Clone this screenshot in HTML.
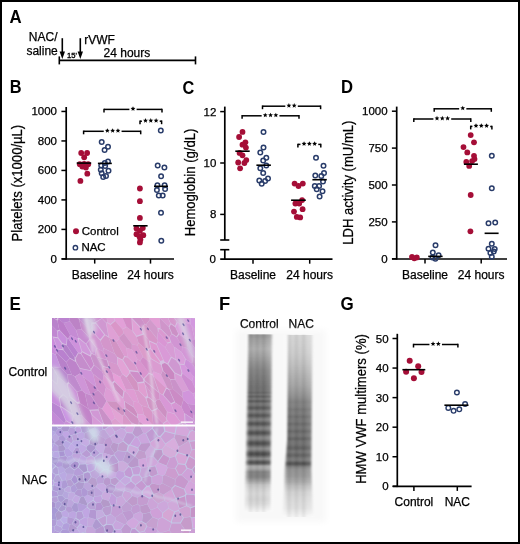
<!DOCTYPE html>
<html><head><meta charset="utf-8"><style>
html,body{margin:0;padding:0;background:#fff;}
svg{display:block;will-change:transform;}
text{font-family:"Liberation Sans", sans-serif;fill:#000;stroke:#000;stroke-width:0.25px;}
</style></head><body>
<svg width="520" height="544" viewBox="0 0 520 544">
<rect x="0" y="0" width="520" height="544" fill="#fff"/>
<defs>
<filter id="soft" x="-5%" y="-5%" width="110%" height="110%"><feGaussianBlur stdDeviation="0.7"/></filter>
<filter id="soft2" x="-5%" y="-5%" width="110%" height="110%"><feGaussianBlur stdDeviation="0.75"/></filter>
<filter id="blur1" x="-20%" y="-20%" width="140%" height="140%"><feGaussianBlur stdDeviation="0.9"/></filter>
<filter id="blur2" x="-20%" y="-20%" width="140%" height="140%"><feGaussianBlur stdDeviation="2"/></filter>
<filter id="blur3" x="-20%" y="-20%" width="140%" height="140%"><feGaussianBlur stdDeviation="3"/></filter>
<filter id="gelblur" x="-20%" y="-5%" width="140%" height="110%"><feGaussianBlur stdDeviation="1.0 0.6"/></filter>
</defs>
<text transform="translate(9.6,22.6) scale(0.99,1.065)" font-size="17" font-weight="bold" style="stroke-width:0">A</text>
<text x="28.8" y="40.9" font-size="12" text-anchor="start" font-weight="normal" >NAC/</text>
<text x="26.4" y="54.8" font-size="12" text-anchor="start" font-weight="normal" >saline</text>
<text x="84.2" y="44.3" font-size="12" text-anchor="start" font-weight="normal" >rVWF</text>
<text x="103.6" y="57.3" font-size="12" text-anchor="start" font-weight="normal" >24 hours</text>
<text x="67.0" y="58.1" font-size="7.6" text-anchor="start" font-weight="normal" style="stroke-width:0.35px">15'</text>
<line x1="62.3" y1="38.2" x2="62.3" y2="53" stroke="#000" stroke-width="1.6"/>
<polygon points="59.599999999999994,51.6 65.0,51.6 62.3,58.9" fill="#000"/>
<line x1="80.3" y1="38.2" x2="80.3" y2="53" stroke="#000" stroke-width="1.6"/>
<polygon points="77.6,51.6 83.0,51.6 80.3,58.9" fill="#000"/>
<line x1="59.3" y1="60.4" x2="195.5" y2="60.4" stroke="#000" stroke-width="1.8"/>
<line x1="59.3" y1="56.4" x2="59.3" y2="64.4" stroke="#000" stroke-width="1.6"/>
<line x1="195.5" y1="56.4" x2="195.5" y2="64.4" stroke="#000" stroke-width="1.6"/>
<text transform="translate(9.7,92.9) scale(0.96,1.065)" font-size="17" font-weight="bold" style="stroke-width:0">B</text>
<line x1="66.2" y1="107" x2="66.2" y2="259.7" stroke="#000" stroke-width="1.7"/>
<line x1="61.400000000000006" y1="111.44999999999999" x2="66.2" y2="111.44999999999999" stroke="#000" stroke-width="1.5"/>
<text x="57.0" y="115.44999999999999" font-size="11.5" text-anchor="end" font-weight="normal" >1000</text>
<line x1="61.400000000000006" y1="140.94" x2="66.2" y2="140.94" stroke="#000" stroke-width="1.5"/>
<text x="57.0" y="144.94" font-size="11.5" text-anchor="end" font-weight="normal" >800</text>
<line x1="61.400000000000006" y1="170.42999999999998" x2="66.2" y2="170.42999999999998" stroke="#000" stroke-width="1.5"/>
<text x="57.0" y="174.42999999999998" font-size="11.5" text-anchor="end" font-weight="normal" >600</text>
<line x1="61.400000000000006" y1="199.92" x2="66.2" y2="199.92" stroke="#000" stroke-width="1.5"/>
<text x="57.0" y="203.92" font-size="11.5" text-anchor="end" font-weight="normal" >400</text>
<line x1="61.400000000000006" y1="229.40999999999997" x2="66.2" y2="229.40999999999997" stroke="#000" stroke-width="1.5"/>
<text x="57.0" y="233.40999999999997" font-size="11.5" text-anchor="end" font-weight="normal" >200</text>
<line x1="61.400000000000006" y1="258.9" x2="66.2" y2="258.9" stroke="#000" stroke-width="1.5"/>
<text x="57.0" y="262.9" font-size="11.5" text-anchor="end" font-weight="normal" >0</text>
<line x1="61.7" y1="259.0" x2="174" y2="259.0" stroke="#000" stroke-width="1.7"/>
<line x1="94.7" y1="259.0" x2="94.7" y2="263.6" stroke="#000" stroke-width="1.5"/>
<text x="94.7" y="279.3" font-size="12" text-anchor="middle" font-weight="normal" >Baseline</text>
<line x1="150.5" y1="259.0" x2="150.5" y2="263.6" stroke="#000" stroke-width="1.5"/>
<text x="150.5" y="279.3" font-size="12" text-anchor="middle" font-weight="normal" >24 hours</text>
<text transform="translate(21.6,183.1) rotate(-90) scale(0.935,1)" font-size="14" text-anchor="middle">Platelets (x1000/µL)</text>
<circle cx="81.2" cy="153" r="2.9" fill="#a50e37"/>
<circle cx="87.1" cy="153" r="2.9" fill="#a50e37"/>
<circle cx="84.2" cy="157.3" r="2.9" fill="#a50e37"/>
<circle cx="79.8" cy="164.2" r="2.9" fill="#a50e37"/>
<circle cx="88.2" cy="164.2" r="2.9" fill="#a50e37"/>
<circle cx="82.3" cy="166.6" r="2.9" fill="#a50e37"/>
<circle cx="85.9" cy="167.6" r="2.9" fill="#a50e37"/>
<circle cx="84.2" cy="163.8" r="2.9" fill="#a50e37"/>
<circle cx="87.3" cy="173.7" r="2.9" fill="#a50e37"/>
<circle cx="80.4" cy="180.9" r="2.9" fill="#a50e37"/>
<line x1="76.7" y1="163.1" x2="91.2" y2="163.1" stroke="#000" stroke-width="1.6"/>
<circle cx="101.7" cy="141.9" r="2.25" fill="none" stroke="#293c6a" stroke-width="1.5"/>
<circle cx="108" cy="146.7" r="2.25" fill="none" stroke="#293c6a" stroke-width="1.5"/>
<circle cx="104.6" cy="150.1" r="2.25" fill="none" stroke="#293c6a" stroke-width="1.5"/>
<circle cx="108" cy="161.6" r="2.25" fill="none" stroke="#293c6a" stroke-width="1.5"/>
<circle cx="101.25" cy="165.5" r="2.25" fill="none" stroke="#293c6a" stroke-width="1.5"/>
<circle cx="105.1" cy="166" r="2.25" fill="none" stroke="#293c6a" stroke-width="1.5"/>
<circle cx="108.5" cy="170.8" r="2.25" fill="none" stroke="#293c6a" stroke-width="1.5"/>
<circle cx="100.8" cy="169.8" r="2.25" fill="none" stroke="#293c6a" stroke-width="1.5"/>
<circle cx="101.7" cy="173.2" r="2.25" fill="none" stroke="#293c6a" stroke-width="1.5"/>
<circle cx="106" cy="176" r="2.25" fill="none" stroke="#293c6a" stroke-width="1.5"/>
<circle cx="103.2" cy="177" r="2.25" fill="none" stroke="#293c6a" stroke-width="1.5"/>
<circle cx="104.8" cy="163" r="2.25" fill="none" stroke="#293c6a" stroke-width="1.5"/>
<line x1="97.9" y1="163.4" x2="111.8" y2="163.4" stroke="#000" stroke-width="1.6"/>
<circle cx="139.9" cy="188.5" r="2.9" fill="#a50e37"/>
<circle cx="139.9" cy="201.2" r="2.9" fill="#a50e37"/>
<circle cx="139.9" cy="217.9" r="2.9" fill="#a50e37"/>
<circle cx="136.5" cy="228.5" r="2.9" fill="#a50e37"/>
<circle cx="142.8" cy="228" r="2.9" fill="#a50e37"/>
<circle cx="139.9" cy="230.9" r="2.9" fill="#a50e37"/>
<circle cx="136.5" cy="234.2" r="2.9" fill="#a50e37"/>
<circle cx="143.3" cy="235.2" r="2.9" fill="#a50e37"/>
<circle cx="139.4" cy="236.6" r="2.9" fill="#a50e37"/>
<circle cx="140.4" cy="239.5" r="2.9" fill="#a50e37"/>
<circle cx="139.9" cy="242.4" r="2.9" fill="#a50e37"/>
<line x1="133.2" y1="225.8" x2="147.6" y2="225.8" stroke="#000" stroke-width="1.6"/>
<circle cx="160.8" cy="130.6" r="2.25" fill="none" stroke="#293c6a" stroke-width="1.5"/>
<circle cx="157.7" cy="165.5" r="2.25" fill="none" stroke="#293c6a" stroke-width="1.5"/>
<circle cx="164.4" cy="167.4" r="2.25" fill="none" stroke="#293c6a" stroke-width="1.5"/>
<circle cx="161.1" cy="176.3" r="2.25" fill="none" stroke="#293c6a" stroke-width="1.5"/>
<circle cx="157.4" cy="185.3" r="2.25" fill="none" stroke="#293c6a" stroke-width="1.5"/>
<circle cx="164.6" cy="185.3" r="2.25" fill="none" stroke="#293c6a" stroke-width="1.5"/>
<circle cx="156.9" cy="190" r="2.25" fill="none" stroke="#293c6a" stroke-width="1.5"/>
<circle cx="165.1" cy="189.1" r="2.25" fill="none" stroke="#293c6a" stroke-width="1.5"/>
<circle cx="158.8" cy="195.4" r="2.25" fill="none" stroke="#293c6a" stroke-width="1.5"/>
<circle cx="162.7" cy="195.4" r="2.25" fill="none" stroke="#293c6a" stroke-width="1.5"/>
<circle cx="161" cy="212.7" r="2.25" fill="none" stroke="#293c6a" stroke-width="1.5"/>
<circle cx="161.3" cy="240.8" r="2.25" fill="none" stroke="#293c6a" stroke-width="1.5"/>
<line x1="154" y1="186.3" x2="168" y2="186.3" stroke="#000" stroke-width="1.6"/>
<line x1="104" y1="109.4" x2="129.4" y2="109.4" stroke="#000" stroke-width="1.5"/>
<line x1="136.6" y1="109.4" x2="162" y2="109.4" stroke="#000" stroke-width="1.5"/>
<polygon points="133.00,106.25 133.68,107.87 135.43,108.01 134.09,109.16 134.50,110.86 133.00,109.95 131.50,110.86 131.91,109.16 130.57,108.01 132.32,107.87" fill="#000"/>
<line x1="104" y1="108.65" x2="104" y2="112.4" stroke="#000" stroke-width="1.5"/>
<line x1="162" y1="108.65" x2="162" y2="112.4" stroke="#000" stroke-width="1.5"/>
<line x1="140" y1="121.2" x2="141.9" y2="121.2" stroke="#000" stroke-width="1.5"/>
<line x1="159.7" y1="121.2" x2="161.6" y2="121.2" stroke="#000" stroke-width="1.5"/>
<polygon points="145.50,118.05 146.18,119.67 147.93,119.81 146.59,120.96 147.00,122.66 145.50,121.75 144.00,122.66 144.41,120.96 143.07,119.81 144.82,119.67" fill="#000"/>
<polygon points="150.80,118.05 151.48,119.67 153.23,119.81 151.89,120.96 152.30,122.66 150.80,121.75 149.30,122.66 149.71,120.96 148.37,119.81 150.12,119.67" fill="#000"/>
<polygon points="156.10,118.05 156.78,119.67 158.53,119.81 157.19,120.96 157.60,122.66 156.10,121.75 154.60,122.66 155.01,120.96 153.67,119.81 155.42,119.67" fill="#000"/>
<line x1="140" y1="120.45" x2="140" y2="124.2" stroke="#000" stroke-width="1.5"/>
<line x1="161.6" y1="120.45" x2="161.6" y2="124.2" stroke="#000" stroke-width="1.5"/>
<line x1="83.6" y1="131.3" x2="103.75000000000001" y2="131.3" stroke="#000" stroke-width="1.5"/>
<line x1="121.55" y1="131.3" x2="140.7" y2="131.3" stroke="#000" stroke-width="1.5"/>
<polygon points="107.35,128.15 108.03,129.77 109.78,129.91 108.44,131.06 108.85,132.76 107.35,131.85 105.85,132.76 106.26,131.06 104.92,129.91 106.67,129.77" fill="#000"/>
<polygon points="112.65,128.15 113.33,129.77 115.08,129.91 113.74,131.06 114.15,132.76 112.65,131.85 111.15,132.76 111.56,131.06 110.22,129.91 111.97,129.77" fill="#000"/>
<polygon points="117.95,128.15 118.63,129.77 120.38,129.91 119.04,131.06 119.45,132.76 117.95,131.85 116.45,132.76 116.86,131.06 115.52,129.91 117.27,129.77" fill="#000"/>
<line x1="83.6" y1="130.55" x2="83.6" y2="134.3" stroke="#000" stroke-width="1.5"/>
<line x1="140.7" y1="130.55" x2="140.7" y2="134.3" stroke="#000" stroke-width="1.5"/>
<circle cx="76" cy="231.2" r="3.0" fill="#a50e37"/>
<text x="81.7" y="235.1" font-size="11.5" text-anchor="start" font-weight="normal" >Control</text>
<circle cx="75.4" cy="247.7" r="2.2" fill="none" stroke="#293c6a" stroke-width="1.4"/>
<text x="81.4" y="251.2" font-size="11.5" text-anchor="start" font-weight="normal" >NAC</text>
<text transform="translate(182.5,93.5) scale(0.96,1.065)" font-size="17" font-weight="bold" style="stroke-width:0">C</text>
<line x1="224.8" y1="106.6" x2="224.8" y2="240" stroke="#000" stroke-width="1.7"/>
<line x1="220.2" y1="240" x2="229.3" y2="240" stroke="#000" stroke-width="1.6"/>
<line x1="224.8" y1="249.7" x2="224.8" y2="259.1" stroke="#000" stroke-width="1.7"/>
<line x1="220.2" y1="249.7" x2="229.3" y2="249.7" stroke="#000" stroke-width="1.6"/>
<line x1="220.2" y1="111.6" x2="224.8" y2="111.6" stroke="#000" stroke-width="1.5"/>
<text x="216.4" y="115.6" font-size="11.5" text-anchor="end" font-weight="normal" >12</text>
<line x1="220.2" y1="163.0" x2="224.8" y2="163.0" stroke="#000" stroke-width="1.5"/>
<text x="216.4" y="167.0" font-size="11.5" text-anchor="end" font-weight="normal" >10</text>
<line x1="220.2" y1="214.39999999999998" x2="224.8" y2="214.39999999999998" stroke="#000" stroke-width="1.5"/>
<text x="216.4" y="218.39999999999998" font-size="11.5" text-anchor="end" font-weight="normal" >8</text>
<text x="216.0" y="262.7" font-size="11.5" text-anchor="end" font-weight="normal" >0</text>
<line x1="220.2" y1="259.1" x2="332.5" y2="259.1" stroke="#000" stroke-width="1.7"/>
<line x1="253" y1="259.1" x2="253" y2="263.70000000000005" stroke="#000" stroke-width="1.5"/>
<text x="253" y="279.3" font-size="12" text-anchor="middle" font-weight="normal" >Baseline</text>
<line x1="309.7" y1="259.1" x2="309.7" y2="263.70000000000005" stroke="#000" stroke-width="1.5"/>
<text x="309.7" y="279.3" font-size="12" text-anchor="middle" font-weight="normal" >24 hours</text>
<text transform="translate(194.6,182.5) rotate(-90) scale(0.935,1)" font-size="14" text-anchor="middle">Hemoglobin (g/dL)</text>
<circle cx="242.5" cy="131.9" r="2.9" fill="#a50e37"/>
<circle cx="239.1" cy="137" r="2.9" fill="#a50e37"/>
<circle cx="245.4" cy="142.3" r="2.9" fill="#a50e37"/>
<circle cx="242.5" cy="144.7" r="2.9" fill="#a50e37"/>
<circle cx="245.9" cy="147.6" r="2.9" fill="#a50e37"/>
<circle cx="239.6" cy="152.9" r="2.9" fill="#a50e37"/>
<circle cx="242.5" cy="155.3" r="2.9" fill="#a50e37"/>
<circle cx="246.3" cy="160.1" r="2.9" fill="#a50e37"/>
<circle cx="238.2" cy="162.5" r="2.9" fill="#a50e37"/>
<circle cx="244.4" cy="163" r="2.9" fill="#a50e37"/>
<circle cx="240.1" cy="168.3" r="2.9" fill="#a50e37"/>
<line x1="235.3" y1="151.2" x2="249.7" y2="151.2" stroke="#000" stroke-width="1.6"/>
<circle cx="263.5" cy="131.9" r="2.25" fill="none" stroke="#293c6a" stroke-width="1.5"/>
<circle cx="263.5" cy="147.6" r="2.25" fill="none" stroke="#293c6a" stroke-width="1.5"/>
<circle cx="260.3" cy="152.4" r="2.25" fill="none" stroke="#293c6a" stroke-width="1.5"/>
<circle cx="266.3" cy="157.7" r="2.25" fill="none" stroke="#293c6a" stroke-width="1.5"/>
<circle cx="263.2" cy="160.6" r="2.25" fill="none" stroke="#293c6a" stroke-width="1.5"/>
<circle cx="266.3" cy="165.4" r="2.25" fill="none" stroke="#293c6a" stroke-width="1.5"/>
<circle cx="260.3" cy="168.3" r="2.25" fill="none" stroke="#293c6a" stroke-width="1.5"/>
<circle cx="263.2" cy="173.1" r="2.25" fill="none" stroke="#293c6a" stroke-width="1.5"/>
<circle cx="268" cy="178.6" r="2.25" fill="none" stroke="#293c6a" stroke-width="1.5"/>
<circle cx="259.3" cy="180.5" r="2.25" fill="none" stroke="#293c6a" stroke-width="1.5"/>
<circle cx="265.1" cy="181" r="2.25" fill="none" stroke="#293c6a" stroke-width="1.5"/>
<circle cx="261.7" cy="183.8" r="2.25" fill="none" stroke="#293c6a" stroke-width="1.5"/>
<line x1="256.4" y1="165.2" x2="270.9" y2="165.2" stroke="#000" stroke-width="1.6"/>
<circle cx="294.6" cy="183.6" r="2.9" fill="#a50e37"/>
<circle cx="298.5" cy="186" r="2.9" fill="#a50e37"/>
<circle cx="302.8" cy="183.6" r="2.9" fill="#a50e37"/>
<circle cx="302.1" cy="200.1" r="2.9" fill="#a50e37"/>
<circle cx="295.4" cy="203.5" r="2.9" fill="#a50e37"/>
<circle cx="299.2" cy="203.5" r="2.9" fill="#a50e37"/>
<circle cx="302.6" cy="209.2" r="2.9" fill="#a50e37"/>
<circle cx="294" cy="211.6" r="2.9" fill="#a50e37"/>
<circle cx="296.8" cy="216.9" r="2.9" fill="#a50e37"/>
<circle cx="300.2" cy="217.4" r="2.9" fill="#a50e37"/>
<line x1="291.1" y1="200.2" x2="305.8" y2="200.2" stroke="#000" stroke-width="1.6"/>
<circle cx="316" cy="157.7" r="2.25" fill="none" stroke="#293c6a" stroke-width="1.5"/>
<circle cx="323.5" cy="165.8" r="2.25" fill="none" stroke="#293c6a" stroke-width="1.5"/>
<circle cx="324" cy="173" r="2.25" fill="none" stroke="#293c6a" stroke-width="1.5"/>
<circle cx="315.3" cy="175.4" r="2.25" fill="none" stroke="#293c6a" stroke-width="1.5"/>
<circle cx="321.3" cy="175.9" r="2.25" fill="none" stroke="#293c6a" stroke-width="1.5"/>
<circle cx="323" cy="181.6" r="2.25" fill="none" stroke="#293c6a" stroke-width="1.5"/>
<circle cx="314.8" cy="186" r="2.25" fill="none" stroke="#293c6a" stroke-width="1.5"/>
<circle cx="319.1" cy="186" r="2.25" fill="none" stroke="#293c6a" stroke-width="1.5"/>
<circle cx="316.7" cy="189.3" r="2.25" fill="none" stroke="#293c6a" stroke-width="1.5"/>
<circle cx="322.5" cy="191.3" r="2.25" fill="none" stroke="#293c6a" stroke-width="1.5"/>
<circle cx="319.6" cy="196.5" r="2.25" fill="none" stroke="#293c6a" stroke-width="1.5"/>
<line x1="312.4" y1="179.7" x2="326.8" y2="179.7" stroke="#000" stroke-width="1.6"/>
<line x1="262.5" y1="106.2" x2="285.3" y2="106.2" stroke="#000" stroke-width="1.5"/>
<line x1="297.80000000000007" y1="106.2" x2="320.6" y2="106.2" stroke="#000" stroke-width="1.5"/>
<polygon points="288.90,103.05 289.58,104.67 291.33,104.81 289.99,105.96 290.40,107.66 288.90,106.75 287.40,107.66 287.81,105.96 286.47,104.81 288.22,104.67" fill="#000"/>
<polygon points="294.20,103.05 294.88,104.67 296.63,104.81 295.29,105.96 295.70,107.66 294.20,106.75 292.70,107.66 293.11,105.96 291.77,104.81 293.52,104.67" fill="#000"/>
<line x1="262.5" y1="105.45" x2="262.5" y2="109.2" stroke="#000" stroke-width="1.5"/>
<line x1="320.6" y1="105.45" x2="320.6" y2="109.2" stroke="#000" stroke-width="1.5"/>
<line x1="242.1" y1="115.8" x2="261.65" y2="115.8" stroke="#000" stroke-width="1.5"/>
<line x1="279.45000000000005" y1="115.8" x2="299" y2="115.8" stroke="#000" stroke-width="1.5"/>
<polygon points="265.25,112.65 265.93,114.27 267.68,114.41 266.34,115.56 266.75,117.26 265.25,116.35 263.75,117.26 264.16,115.56 262.82,114.41 264.57,114.27" fill="#000"/>
<polygon points="270.55,112.65 271.23,114.27 272.98,114.41 271.64,115.56 272.05,117.26 270.55,116.35 269.05,117.26 269.46,115.56 268.12,114.41 269.87,114.27" fill="#000"/>
<polygon points="275.85,112.65 276.53,114.27 278.28,114.41 276.94,115.56 277.35,117.26 275.85,116.35 274.35,117.26 274.76,115.56 273.42,114.41 275.17,114.27" fill="#000"/>
<line x1="242.1" y1="115.05" x2="242.1" y2="118.8" stroke="#000" stroke-width="1.5"/>
<line x1="299" y1="115.05" x2="299" y2="118.8" stroke="#000" stroke-width="1.5"/>
<line x1="297.9" y1="144.4" x2="300.45" y2="144.4" stroke="#000" stroke-width="1.5"/>
<line x1="318.25000000000006" y1="144.4" x2="320.8" y2="144.4" stroke="#000" stroke-width="1.5"/>
<polygon points="304.05,141.25 304.73,142.87 306.48,143.01 305.14,144.16 305.55,145.86 304.05,144.95 302.55,145.86 302.96,144.16 301.62,143.01 303.37,142.87" fill="#000"/>
<polygon points="309.35,141.25 310.03,142.87 311.78,143.01 310.44,144.16 310.85,145.86 309.35,144.95 307.85,145.86 308.26,144.16 306.92,143.01 308.67,142.87" fill="#000"/>
<polygon points="314.65,141.25 315.33,142.87 317.08,143.01 315.74,144.16 316.15,145.86 314.65,144.95 313.15,145.86 313.56,144.16 312.22,143.01 313.97,142.87" fill="#000"/>
<line x1="297.9" y1="143.65" x2="297.9" y2="147.4" stroke="#000" stroke-width="1.5"/>
<line x1="320.8" y1="143.65" x2="320.8" y2="147.4" stroke="#000" stroke-width="1.5"/>
<text transform="translate(340.9,92.8) scale(0.98,1.065)" font-size="17" font-weight="bold" style="stroke-width:0">D</text>
<line x1="396.7" y1="106.6" x2="396.7" y2="259.6" stroke="#000" stroke-width="1.7"/>
<line x1="391.9" y1="111.19999999999999" x2="396.7" y2="111.19999999999999" stroke="#000" stroke-width="1.5"/>
<text x="387.6" y="115.19999999999999" font-size="11.5" text-anchor="end" font-weight="normal" >1000</text>
<line x1="391.9" y1="148.10000000000002" x2="396.7" y2="148.10000000000002" stroke="#000" stroke-width="1.5"/>
<text x="387.6" y="152.10000000000002" font-size="11.5" text-anchor="end" font-weight="normal" >750</text>
<line x1="391.9" y1="185.0" x2="396.7" y2="185.0" stroke="#000" stroke-width="1.5"/>
<text x="387.6" y="189.0" font-size="11.5" text-anchor="end" font-weight="normal" >500</text>
<line x1="391.9" y1="221.9" x2="396.7" y2="221.9" stroke="#000" stroke-width="1.5"/>
<text x="387.6" y="225.9" font-size="11.5" text-anchor="end" font-weight="normal" >250</text>
<line x1="391.9" y1="258.8" x2="396.7" y2="258.8" stroke="#000" stroke-width="1.5"/>
<text x="387.6" y="262.8" font-size="11.5" text-anchor="end" font-weight="normal" >0</text>
<line x1="392" y1="259.0" x2="507" y2="259.0" stroke="#000" stroke-width="1.7"/>
<line x1="425" y1="259.0" x2="425" y2="263.6" stroke="#000" stroke-width="1.5"/>
<text x="425" y="279.3" font-size="12" text-anchor="middle" font-weight="normal" >Baseline</text>
<line x1="481.2" y1="259.0" x2="481.2" y2="263.6" stroke="#000" stroke-width="1.5"/>
<text x="481.2" y="279.3" font-size="12" text-anchor="middle" font-weight="normal" >24 hours</text>
<text transform="translate(352.7,182.7) rotate(-90) scale(0.935,1)" font-size="14" text-anchor="middle">LDH activity (mU/mL)</text>
<circle cx="412" cy="257.0" r="2.9" fill="#a50e37"/>
<circle cx="416.8" cy="257.4" r="2.9" fill="#a50e37"/>
<circle cx="414.3" cy="258.3" r="2.9" fill="#a50e37"/>
<circle cx="435.5" cy="245.2" r="2.25" fill="none" stroke="#293c6a" stroke-width="1.5"/>
<circle cx="432.8" cy="252.4" r="2.25" fill="none" stroke="#293c6a" stroke-width="1.5"/>
<circle cx="438.6" cy="255.2" r="2.25" fill="none" stroke="#293c6a" stroke-width="1.5"/>
<circle cx="435.4" cy="258.8" r="2.25" fill="none" stroke="#293c6a" stroke-width="1.5"/>
<circle cx="432.5" cy="257.5" r="2.25" fill="none" stroke="#293c6a" stroke-width="1.5"/>
<line x1="428.2" y1="256.4" x2="442.6" y2="256.4" stroke="#000" stroke-width="1.6"/>
<circle cx="470.7" cy="135.1" r="2.9" fill="#a50e37"/>
<circle cx="474" cy="142.3" r="2.9" fill="#a50e37"/>
<circle cx="463.5" cy="147.1" r="2.9" fill="#a50e37"/>
<circle cx="467.3" cy="152.4" r="2.9" fill="#a50e37"/>
<circle cx="474" cy="155.8" r="2.9" fill="#a50e37"/>
<circle cx="474.5" cy="159.1" r="2.9" fill="#a50e37"/>
<circle cx="472.1" cy="161.1" r="2.9" fill="#a50e37"/>
<circle cx="466.3" cy="162" r="2.9" fill="#a50e37"/>
<circle cx="469.2" cy="165.9" r="2.9" fill="#a50e37"/>
<circle cx="470.7" cy="195" r="2.9" fill="#a50e37"/>
<circle cx="470.4" cy="231.3" r="2.9" fill="#a50e37"/>
<line x1="463.9" y1="164.2" x2="477.9" y2="164.2" stroke="#000" stroke-width="1.6"/>
<circle cx="491.8" cy="155.8" r="2.25" fill="none" stroke="#293c6a" stroke-width="1.5"/>
<circle cx="491.8" cy="188.3" r="2.25" fill="none" stroke="#293c6a" stroke-width="1.5"/>
<circle cx="488.5" cy="223.2" r="2.25" fill="none" stroke="#293c6a" stroke-width="1.5"/>
<circle cx="495.2" cy="222.5" r="2.25" fill="none" stroke="#293c6a" stroke-width="1.5"/>
<circle cx="491.8" cy="243.8" r="2.25" fill="none" stroke="#293c6a" stroke-width="1.5"/>
<circle cx="488.5" cy="248.7" r="2.25" fill="none" stroke="#293c6a" stroke-width="1.5"/>
<circle cx="494.7" cy="249.1" r="2.25" fill="none" stroke="#293c6a" stroke-width="1.5"/>
<circle cx="490.4" cy="253" r="2.25" fill="none" stroke="#293c6a" stroke-width="1.5"/>
<circle cx="493.75" cy="251.5" r="2.25" fill="none" stroke="#293c6a" stroke-width="1.5"/>
<circle cx="491.8" cy="256.8" r="2.25" fill="none" stroke="#293c6a" stroke-width="1.5"/>
<line x1="484.6" y1="233.3" x2="498.6" y2="233.3" stroke="#000" stroke-width="1.6"/>
<line x1="434.2" y1="108.8" x2="459.15" y2="108.8" stroke="#000" stroke-width="1.5"/>
<line x1="466.35" y1="108.8" x2="491.3" y2="108.8" stroke="#000" stroke-width="1.5"/>
<polygon points="462.75,105.65 463.43,107.27 465.18,107.41 463.84,108.56 464.25,110.26 462.75,109.35 461.25,110.26 461.66,108.56 460.32,107.41 462.07,107.27" fill="#000"/>
<line x1="434.2" y1="108.05" x2="434.2" y2="111.8" stroke="#000" stroke-width="1.5"/>
<line x1="491.3" y1="108.05" x2="491.3" y2="111.8" stroke="#000" stroke-width="1.5"/>
<line x1="413.8" y1="119.0" x2="433.4" y2="119.0" stroke="#000" stroke-width="1.5"/>
<line x1="451.20000000000005" y1="119.0" x2="470.8" y2="119.0" stroke="#000" stroke-width="1.5"/>
<polygon points="437.00,115.85 437.68,117.47 439.43,117.61 438.09,118.76 438.50,120.46 437.00,119.55 435.50,120.46 435.91,118.76 434.57,117.61 436.32,117.47" fill="#000"/>
<polygon points="442.30,115.85 442.98,117.47 444.73,117.61 443.39,118.76 443.80,120.46 442.30,119.55 440.80,120.46 441.21,118.76 439.87,117.61 441.62,117.47" fill="#000"/>
<polygon points="447.60,115.85 448.28,117.47 450.03,117.61 448.69,118.76 449.10,120.46 447.60,119.55 446.10,120.46 446.51,118.76 445.17,117.61 446.92,117.47" fill="#000"/>
<line x1="413.8" y1="118.25" x2="413.8" y2="122.0" stroke="#000" stroke-width="1.5"/>
<line x1="470.8" y1="118.25" x2="470.8" y2="122.0" stroke="#000" stroke-width="1.5"/>
<line x1="470.7" y1="126.4" x2="472.3999999999999" y2="126.4" stroke="#000" stroke-width="1.5"/>
<line x1="490.2" y1="126.4" x2="491.9" y2="126.4" stroke="#000" stroke-width="1.5"/>
<polygon points="476.00,123.25 476.68,124.87 478.43,125.01 477.09,126.16 477.50,127.86 476.00,126.95 474.50,127.86 474.91,126.16 473.57,125.01 475.32,124.87" fill="#000"/>
<polygon points="481.30,123.25 481.98,124.87 483.73,125.01 482.39,126.16 482.80,127.86 481.30,126.95 479.80,127.86 480.21,126.16 478.87,125.01 480.62,124.87" fill="#000"/>
<polygon points="486.60,123.25 487.28,124.87 489.03,125.01 487.69,126.16 488.10,127.86 486.60,126.95 485.10,127.86 485.51,126.16 484.17,125.01 485.92,124.87" fill="#000"/>
<line x1="470.7" y1="125.65" x2="470.7" y2="129.4" stroke="#000" stroke-width="1.5"/>
<line x1="491.9" y1="125.65" x2="491.9" y2="129.4" stroke="#000" stroke-width="1.5"/>
<text transform="translate(9.5,309.9) scale(1.0,1.065)" font-size="17" font-weight="bold" style="stroke-width:0">E</text>
<text x="8.6" y="375.6" font-size="12" text-anchor="start" font-weight="normal" >Control</text>
<text x="21.8" y="483.8" font-size="12" text-anchor="start" font-weight="normal" >NAC</text>
<clipPath id="cpT"><rect x="52" y="318" width="143" height="106.5"/></clipPath>
<g clip-path="url(#cpT)">
<g filter="url(#soft)">
<rect x="49" y="315" width="149" height="112.5" fill="#d6c0e2"/>
<path d="M83.3,426.5L81.5,415.3L81.6,415.3L91.8,426.5Z" fill="#cf93d2"/>
<path d="M197.0,369.2L195.9,368.1L197.0,367.2Z" fill="#d19bde"/>
<path d="M159.7,399.3L159.4,393.2L144.5,380.9L144.5,382.6L145.1,384.2L156.4,400.1Z" fill="#d292c7"/>
<path d="M158.8,332.3L167.0,342.6L170.2,341.8L168.7,337.5L160.9,329.5L158.4,329.3Z" fill="#da99d0"/>
<path d="M84.8,393.3L88.3,408.6L80.0,403.2L77.1,391.7L82.0,390.4Z" fill="#c182c6"/>
<path d="M96.7,357.1L95.4,355.4L96.7,348.1L102.9,351.4L106.9,359.8Z" fill="#d293ce"/>
<path d="M75.1,357.7L78.0,352.5L68.3,338.8L67.4,338.5L66.8,345.2Z" fill="#b981cf"/>
<path d="M102.7,366.6L101.9,371.3L94.3,365.1L90.9,356.6L91.7,353.8L95.4,355.5L96.7,357.1Z" fill="#c892ca"/>
<path d="M90.0,355.3L82.0,351.0L78.7,340.0L79.3,338.9L85.8,344.2L90.7,353.0Z" fill="#d199da"/>
<path d="M197.0,416.4L197.0,426.4L196.8,426.4L193.1,418.9L193.8,414.5Z" fill="#cd94d4"/>
<path d="M124.8,401.8L133.7,407.4L137.1,413.6L137.2,417.0L125.6,407.9Z" fill="#cd8dc0"/>
<path d="M160.9,374.4L153.3,371.4L152.6,374.5L153.7,376.5L165.9,387.9L167.2,387.7Z" fill="#e1a2d9"/>
<path d="M88.3,408.8L89.3,410.0L91.6,414.9L92.7,426.3L91.9,426.3L81.6,415.1L77.8,404.0L80.1,403.5Z" fill="#c284c9"/>
<path d="M106.7,316.1L107.5,322.2L110.4,324.1L114.7,320.4L112.8,316.1Z" fill="#dca2d6"/>
<path d="M197.0,416.2L193.7,414.4L187.9,403.9L197.0,405.0Z" fill="#c68bcf"/>
<path d="M108.4,426.4L104.0,423.9L98.6,409.5L99.0,407.6L102.2,409.0L111.2,421.1L113.0,426.4Z" fill="#c990c7"/>
<path d="M197.1,403.6L192.9,393.9L196.7,391.7L197.1,392.0Z" fill="#d599dc"/>
<path d="M53.5,368.2L60.6,367.2L67.2,374.8L68.3,381.8L66.5,383.8L58.3,376.7Z" fill="#b785ce"/>
<path d="M102.8,366.8L102.1,371.5L103.6,374.6L112.2,382.6L114.0,380.6L112.3,372.6L109.6,368.6Z" fill="#d28ec8"/>
<path d="M80.6,373.1L79.5,368.5L75.7,362.0L69.8,358.5L66.4,362.2L71.7,374.3L74.9,376.5Z" fill="#bd83ca"/>
<path d="M111.8,391.3L116.2,401.5L123.4,409.4L124.7,407.7L123.9,400.8L123.0,398.7L114.2,389.6Z" fill="#dfa1d6"/>
<path d="M176.8,321.8L173.5,317.2L172.6,316.6L167.6,316.6L170.6,322.9L175.0,325.9Z" fill="#d598cd"/>
<path d="M79.0,401.6L77.0,402.0L70.4,396.3L67.6,385.1L69.2,383.4L76.5,391.6Z" fill="#cb8dd8"/>
<path d="M141.6,405.8L138.9,402.5L133.3,401.4L134.1,407.2L137.9,414.2L143.7,414.6Z" fill="#dd9bd0"/>
<path d="M72.1,413.4L67.0,397.9L63.2,395.3L59.8,398.6L61.1,405.9Z" fill="#b87fcc"/>
<path d="M152.4,375.2L149.2,373.8L144.4,378.8L145.2,380.8L158.6,392.0L158.7,391.9L153.4,377.0Z" fill="#d398c8"/>
<path d="M70.1,321.5L75.9,330.0L78.3,337.2L77.5,338.4L70.2,334.9L63.7,323.1Z" fill="#c58bd4"/>
<path d="M175.4,380.1L175.0,373.6L181.5,376.8L188.6,389.9L182.5,391.9Z" fill="#d89ed6"/>
<path d="M49.9,410.8L49.9,400.9L50.2,401.4L50.9,409.8Z" fill="#c487d7"/>
<path d="M49.9,416.1L49.9,425.6L53.8,425.0Z" fill="#c690d8"/>
<path d="M51.6,367.4L50.5,367.8L50.5,378.1L56.6,383.5L57.6,376.6L53.4,369.2Z" fill="#b67fd1"/>
<path d="M50.1,378.6L57.1,384.8L62.7,394.1L58.9,397.7L50.1,387.9Z" fill="#c28bd7"/>
<path d="M189.2,315.9L190.1,317.6L190.4,324.3L185.5,322.4L181.3,315.9Z" fill="#da9edc"/>
<path d="M167.5,388.9L166.4,389.1L163.5,394.9L171.0,403.2L174.2,401.4L169.2,390.3Z" fill="#ca8dc8"/>
<path d="M61.5,343.4L57.8,338.3L53.7,337.7L57.6,348.7L62.6,349.2Z" fill="#cb94dd"/>
<path d="M139.2,426.5L139.2,426.6L145.9,426.6L139.4,421.4Z" fill="#ca8cc0"/>
<path d="M193.2,356.6L196.9,358.3L196.9,351.2L189.2,340.5L188.4,339.9L187.6,340.4L188.1,348.5Z" fill="#cb92d3"/>
<path d="M74.4,357.1L66.7,345.6L62.5,343.9L63.7,350.1L69.5,357.6L74.9,360.8Z" fill="#b481ca"/>
<path d="M152.3,411.6L157.8,409.1L165.7,418.1L166.7,420.5L162.8,423.2L152.9,412.9Z" fill="#d79acc"/>
<path d="M167.5,343.4L165.3,347.3L171.1,356.5L175.7,359.3L173.7,346.3L171.2,342.6Z" fill="#d79cd5"/>
<path d="M163.1,360.1L156.4,344.8L149.7,341.8L151.0,348.3L160.4,361.1Z" fill="#dd99d1"/>
<path d="M50.0,352.1L55.5,354.5L56.3,352.7L50.0,343.3Z" fill="#c98cda"/>
<path d="M104.9,334.2L96.0,322.7L96.0,322.4L101.9,318.6L105.9,322.7L108.3,336.5L108.3,336.5Z" fill="#d098d1"/>
<path d="M126.0,389.8L133.6,389.2L126.6,377.4L122.4,374.3L120.3,377.1Z" fill="#d697cb"/>
<path d="M130.3,315.2L130.7,316.7L130.5,316.9L126.2,315.2Z" fill="#cf8bc2"/>
<path d="M114.7,353.6L117.1,356.8L122.4,359.5L124.2,356.1L116.2,341.4L109.0,337.7L108.9,337.7Z" fill="#d294c4"/>
<path d="M50.0,316.1L50.0,323.4L56.9,330.5L59.2,329.7L57.4,320.7L50.4,316.1Z" fill="#b982cb"/>
<path d="M78.5,337.3L85.9,343.4L89.7,339.0L89.1,337.4L81.4,329.3L76.1,330.1Z" fill="#c78dd1"/>
<path d="M169.3,389.5L175.1,402.2L181.2,406.8L183.4,399.4L182.5,397.5L173.1,389.1Z" fill="#cb8bc5"/>
<path d="M64.1,426.4L64.8,425.6L64.4,423.3L51.1,410.1L50.1,411.1L50.1,416.2L54.0,425.0L55.2,426.4Z" fill="#c38bd7"/>
<path d="M190.4,317.8L190.6,324.5L191.7,326.1L197.0,331.4L197.0,320.8L195.4,318.8Z" fill="#d398df"/>
<path d="M174.9,427.1L181.1,423.7L182.5,425.0L183.3,427.1Z" fill="#c98fc9"/>
<path d="M103.6,374.8L102.8,381.5L105.9,387.2L111.7,391.1L114.0,389.4L112.2,382.8Z" fill="#db9cd3"/>
<path d="M68.6,316.1L70.2,321.4L76.0,329.9L81.3,329.1L79.1,319.6L75.4,316.1Z" fill="#bc83c6"/>
<path d="M149.1,362.2L150.4,358.5L146.4,349.9L138.6,343.0L137.5,345.7L143.0,356.7Z" fill="#db9cca"/>
<path d="M103.8,427.0L108.5,427.0L104.4,424.7L103.6,425.7Z" fill="#dd9ed7"/>
<path d="M49.4,362.8L50.5,365.4L49.4,365.8Z" fill="#c58fd8"/>
<path d="M188.4,339.7L182.6,325.5L185.6,322.8L190.5,324.6L191.6,326.2L194.9,339.9L189.2,340.3Z" fill="#d195d7"/>
<path d="M59.8,330.8L66.8,338.4L66.2,344.4L62.1,342.7L58.3,337.5L57.6,331.6Z" fill="#c88fdc"/>
<path d="M166.7,418.5L167.4,412.0L174.4,414.1L180.6,422.3L173.9,426.0L172.2,426.0L167.7,420.8Z" fill="#dd9ad5"/>
<path d="M140.0,316.0L144.6,324.0L146.0,324.6L149.9,319.3L148.4,316.0Z" fill="#d293c7"/>
<path d="M154.5,426.6L153.2,425.0L151.8,424.3L149.9,426.6Z" fill="#d38cc1"/>
<path d="M148.8,372.7L140.1,360.9L137.5,359.5L135.5,364.7L138.5,371.6L143.5,378.4Z" fill="#d995ce"/>
<path d="M102.8,351.2L103.3,348.0L100.3,340.8L91.8,331.0L91.3,331.0L89.3,337.4L89.9,339.1L96.6,347.9Z" fill="#d197d1"/>
<path d="M80.4,315.6L75.5,315.6L79.0,318.9L79.6,319.0Z" fill="#c287cb"/>
<path d="M103.2,426.5L103.0,425.1L91.8,415.0L92.9,426.5Z" fill="#d69ad6"/>
<path d="M163.4,371.1L161.9,365.8L162.2,364.1L164.9,363.0L167.7,364.7L174.3,373.5L174.7,379.4L170.2,379.0Z" fill="#ca88c2"/>
<path d="M187.8,403.9L183.6,399.6L181.4,407.0L184.3,413.0L192.9,418.7L193.6,414.4Z" fill="#c888cc"/>
<path d="M127.7,357.6L135.0,364.7L137.8,371.1L129.4,370.1L123.1,360.1L124.8,356.9Z" fill="#d999cc"/>
<path d="M143.2,380.2L143.2,381.6L137.3,382.2L130.7,373.6L130.1,371.4L138.1,372.3L142.5,378.3Z" fill="#ce8ec8"/>
<path d="M132.9,330.8L136.5,335.8L142.9,333.5L140.9,328.4L132.3,319.3L132.1,319.5Z" fill="#e0a2d6"/>
<path d="M83.6,377.1L96.2,387.2L97.9,390.1L90.7,394.9Z" fill="#c989ca"/>
<path d="M128.8,370.4L122.6,360.4L117.6,357.9L117.9,364.8L122.4,373.7L126.4,376.6L129.4,372.8Z" fill="#e2a3d6"/>
<path d="M160.0,361.8L150.5,348.9L147.3,350.5L150.7,358.1L159.7,363.5Z" fill="#de9bce"/>
<path d="M113.3,316.1L115.3,320.8L122.6,329.3L126.4,326.7L121.7,316.1Z" fill="#e2a0d8"/>
<path d="M175.7,360.3L179.4,364.7L181.5,372.6L180.7,375.3L174.9,372.6L168.4,363.9L171.6,357.8Z" fill="#cf98d1"/>
<path d="M184.5,364.9L180.2,364.7L182.5,373.5L191.8,380.7L193.3,376.5Z" fill="#d699dd"/>
<path d="M100.5,340.9L105.1,335.2L108.8,337.7L114.5,353.5L103.4,348.0Z" fill="#d396cb"/>
<path d="M175.3,327.3L170.9,324.3L169.5,327.3L172.1,333.4L176.4,336.4L178.3,333.7Z" fill="#cc90c6"/>
<path d="M145.9,426.4L139.4,421.3L138.1,418.2L138.0,414.4L143.8,414.8L151.6,424.1L149.8,426.4Z" fill="#e2a1d8"/>
<path d="M102.3,423.8L103.0,422.9L98.4,410.4L90.5,410.8L92.6,415.1Z" fill="#d198d5"/>
<path d="M151.7,411.4L148.8,407.8L141.8,405.8L143.9,414.6L151.7,424.0L153.1,424.7L152.3,412.7Z" fill="#d897c8"/>
<path d="M161.0,374.4L167.3,387.7L169.2,389.3L173.0,388.9L170.2,379.6L162.7,370.8Z" fill="#cc93c6"/>
<path d="M50.0,400.8L50.4,401.3L59.9,406.6L60.4,405.9L58.9,397.8L50.0,388.0Z" fill="#c78edc"/>
<path d="M192.2,363.2L193.1,356.7L188.0,348.5L182.3,346.7L182.0,352.4L185.8,359.1Z" fill="#d396d6"/>
<path d="M148.7,407.5L145.4,397.9L138.4,390.6L134.5,390.1L139.0,402.4L141.7,405.6Z" fill="#d99bcc"/>
<path d="M195.7,377.6L197.0,379.1L197.0,391.7L196.6,391.5L192.0,380.9L193.4,376.7Z" fill="#d294dc"/>
<path d="M77.6,338.6L81.4,351.3L80.6,353.1L78.1,352.4L68.4,338.8L70.3,335.1Z" fill="#ce92dc"/>
<path d="M98.1,390.0L103.9,396.2L105.8,387.3L102.7,381.5L93.1,374.0L96.3,387.1Z" fill="#d091cd"/>
<path d="M184.6,423.3L182.8,423.7L181.2,422.4L174.6,413.6L171.5,404.5L175.1,402.4L181.3,407.0L184.2,413.0Z" fill="#d696d3"/>
<path d="M81.9,390.2L77.0,391.5L68.5,382.0L67.4,374.9L71.7,374.5L74.9,376.8Z" fill="#bf8acd"/>
<path d="M107.9,361.1L117.4,364.6L122.2,374.1L120.2,376.8L112.4,372.6L109.7,368.5Z" fill="#d698cc"/>
<path d="M49.9,333.5L49.9,334.1L50.2,334.0Z" fill="#be83d0"/>
<path d="M83.5,377.1L90.6,394.9L90.6,394.9L84.9,393.1L82.0,390.2L75.1,376.8L80.8,373.3Z" fill="#cf95d7"/>
<path d="M157.5,327.9L150.1,319.4L148.6,316.0L158.7,316.0L159.6,317.7L160.3,328.2Z" fill="#e29fd5"/>
<path d="M90.6,356.8L82.1,352.2L81.4,353.8L90.8,369.1L93.7,364.7Z" fill="#c98acc"/>
<path d="M56.5,353.0L56.6,353.0L66.2,362.2L71.6,374.2L67.2,374.6L60.6,367.1L55.8,354.7Z" fill="#b881ca"/>
<path d="M168.7,326.8L159.7,317.8L158.9,316.1L166.9,316.1L170.3,323.3Z" fill="#d79bd1"/>
<path d="M68.4,316.0L70.0,321.3L63.6,322.9L58.6,318.9L57.4,316.0Z" fill="#bb83d0"/>
<path d="M110.6,325.0L119.0,337.4L119.3,338.6L116.2,341.2L108.9,337.5L106.4,322.7L107.4,322.9Z" fill="#dfa0d5"/>
<path d="M132.0,426.5L123.6,426.5L123.3,425.9L122.6,415.9L124.6,414.5L131.1,422.7Z" fill="#d898c8"/>
<path d="M73.6,426.5L81.2,426.5L73.7,416.1L72.2,424.6Z" fill="#c387d1"/>
<path d="M65.6,426.6L65.0,425.8L64.6,423.5L65.8,420.9L72.1,424.7L73.5,426.6Z" fill="#c88ed5"/>
<path d="M182.5,373.6L181.6,376.8L188.7,389.9L192.8,393.7L196.5,391.5L191.9,380.9Z" fill="#cd8dd1"/>
<path d="M114.7,382.0L123.5,391.0L122.4,397.3L114.8,389.5L113.2,383.7Z" fill="#cd8ec2"/>
<path d="M157.8,408.6L155.4,402.5L156.5,400.3L159.8,399.5L166.9,411.4L166.2,418.2Z" fill="#cd90c2"/>
<path d="M116.1,401.6L106.7,401.2L106.7,401.2L110.7,406.8L122.5,415.6L124.5,414.2L123.4,409.5Z" fill="#cf93c2"/>
<path d="M75.8,358.3L78.5,353.3L80.9,353.9L90.4,369.3L90.6,370.3L79.9,368.0L76.3,362.0Z" fill="#c58dcc"/>
<path d="M188.9,425.8L185.5,423.3L185.1,414.1L192.7,419.2L195.9,425.8Z" fill="#cd96d7"/>
<path d="M102.2,408.9L106.6,401.3L110.6,406.9L115.0,418.1L111.3,421.1Z" fill="#e29dd6"/>
<path d="M122.5,415.7L123.2,425.8L115.1,418.1L110.7,407.0Z" fill="#e2a3d4"/>
<path d="M58.3,376.9L66.5,383.9L69.7,396.9L67.0,396.9L62.9,394.0L57.2,384.7Z" fill="#c48fd9"/>
<path d="M107.1,359.8L103.1,351.4L103.5,348.2L114.6,353.7L117.0,357.0L117.3,364.4L107.8,361.0Z" fill="#d298cf"/>
<path d="M163.3,423.9L163.7,426.6L172.1,426.6L167.3,421.1Z" fill="#de9cd4"/>
<path d="M85.8,316.0L92.6,316.0L95.3,322.0L95.3,322.3L91.2,322.5Z" fill="#c288cd"/>
<path d="M139.1,426.6L139.1,426.5L131.2,422.8L132.1,426.6Z" fill="#e2a3d4"/>
<path d="M165.2,347.4L158.2,341.4L156.7,344.0L164.3,361.5L167.4,363.4L171.0,356.5Z" fill="#d99ad7"/>
<path d="M151.8,410.4L149.3,407.2L146.4,398.7L148.4,397.5L154.9,402.7L156.9,408.0Z" fill="#d095c4"/>
<path d="M122.7,329.5L126.5,327.0L132.4,331.3L136.5,337.0L138.4,342.7L137.3,345.4L131.9,344.0L123.8,333.2Z" fill="#dc9fd0"/>
<path d="M195.9,315.9L195.3,318.6L190.3,317.6L189.3,315.9Z" fill="#d297dd"/>
<path d="M172.7,315.9L173.6,315.9L173.7,316.5Z" fill="#d191ce"/>
<path d="M145.2,397.0L138.8,390.4L138.0,383.6L144.2,383.0L144.7,384.5L147.3,395.7Z" fill="#df9fd1"/>
<path d="M157.9,331.5L157.2,338.8L146.1,324.8L150.1,319.5L157.4,328.0Z" fill="#d299cb"/>
<path d="M83.6,377.0L96.2,387.0L93.0,373.9L91.2,371.1L79.8,368.7L80.9,373.2Z" fill="#ce94d8"/>
<path d="M81.4,415.0L81.3,415.1L73.4,415.1L72.8,414.3L67.2,397.3L69.9,397.2L77.6,403.9Z" fill="#be83cc"/>
<path d="M138.6,425.8L131.2,422.3L125.2,414.6L124.2,410.2L125.4,408.6L137.6,418.1L138.8,421.0Z" fill="#ce91c3"/>
<path d="M55.2,426.6L50.1,426.6L50.1,425.9L53.9,425.3Z" fill="#bc83cc"/>
<path d="M197.0,342.0L197.0,331.6L191.7,326.3L195.1,340.0Z" fill="#d49bd9"/>
<path d="M52.8,336.6L50.3,334.2L50.0,334.3L50.0,343.3L56.3,352.6L56.4,352.6L57.4,349.3Z" fill="#cb8cdc"/>
<path d="M182.7,397.5L183.6,399.4L187.8,403.7L196.9,404.9L196.9,403.6L192.8,393.9L188.7,390.2L182.6,392.2Z" fill="#d195db"/>
<path d="M115.3,320.9L122.5,329.4L123.6,333.1L119.1,337.3L110.7,324.9Z" fill="#da96c8"/>
<path d="M139.9,316.0L131.3,316.0L131.8,317.7L141.7,328.2L144.5,324.1Z" fill="#cd91c8"/>
<path d="M160.8,374.2L153.2,371.2L149.3,362.4L150.5,358.7L160.8,364.8L162.5,370.6Z" fill="#da9cd1"/>
<path d="M126.0,391.3L133.2,401.2L138.8,402.4L134.4,390.0L133.7,389.4L126.1,390.0Z" fill="#df9cd3"/>
<path d="M134.4,389.8L138.3,390.3L137.4,383.0L129.9,373.3L126.7,377.4L133.7,389.2Z" fill="#d293c2"/>
<path d="M116.3,341.4L124.3,356.1L127.4,356.7L126.4,347.8L119.4,338.8Z" fill="#dc9bd0"/>
<path d="M100.0,339.6L92.6,331.0L92.3,324.0L95.8,323.8L104.1,334.7Z" fill="#d493d5"/>
<path d="M188.7,426.6L184.9,423.7L183.0,424.1L184.0,426.6Z" fill="#c58dd1"/>
<path d="M101.9,371.5L94.3,365.3L91.2,370.0L91.4,371.0L93.1,373.8L102.7,381.3L103.4,374.6Z" fill="#c98ece"/>
<path d="M69.7,358.3L66.3,362.0L56.6,352.8L57.6,349.6L63.3,350.2Z" fill="#b981cf"/>
<path d="M119.2,337.5L119.5,338.7L126.5,347.7L131.8,349.4L131.8,344.1L123.8,333.3Z" fill="#cf94c6"/>
<path d="M64.8,427.8L65.4,427.1L65.9,427.8Z" fill="#c692d7"/>
<path d="M50.0,323.5L50.0,333.5L50.3,334.0L52.8,336.5L57.6,337.2L56.9,330.6Z" fill="#c087d1"/>
<path d="M90.9,395.1L98.8,407.3L102.1,408.6L106.4,401.1L106.4,401.1L103.8,396.4L98.0,390.2L90.8,395.1Z" fill="#c78bc8"/>
<path d="M91.2,330.8L89.1,337.2L81.5,329.1L79.3,319.7L79.9,319.8Z" fill="#c689ca"/>
<path d="M196.1,316.1L197.1,316.1L197.1,320.7L195.4,318.7Z" fill="#d095db"/>
<path d="M188.2,339.6L182.5,325.5L177.7,322.1L175.6,326.9L179.0,334.3L187.4,340.1Z" fill="#dc9adb"/>
<path d="M90.7,395.2L98.7,407.4L98.4,409.3L89.3,409.8L88.4,408.7L85.0,393.3Z" fill="#c489cb"/>
<path d="M159.9,399.5L159.6,393.4L159.7,393.4L162.7,394.9L171.3,404.4L174.4,413.6L167.0,411.4Z" fill="#d898d6"/>
<path d="M63.6,323.1L70.1,334.9L68.2,338.6L67.3,338.2L59.4,329.8L57.5,320.8L58.6,319.1Z" fill="#bb7dc9"/>
<path d="M51.3,366.0L50.1,363.2L50.1,352.4L55.6,354.7L60.5,367.0L53.4,368.0Z" fill="#c695de"/>
<path d="M140.0,360.7L137.4,359.3L132.0,349.6L132.0,344.3L137.4,345.6L142.9,356.7Z" fill="#d99acf"/>
<path d="M185.2,358.9L181.7,352.6L174.2,347.0L176.0,359.1L180.0,363.8L184.0,364.0Z" fill="#d9a0db"/>
<path d="M71.7,423.6L73.0,416.0L72.8,415.3L72.2,414.6L61.5,407.2L61.1,407.9L66.0,420.2Z" fill="#ca93e2"/>
<path d="M194.9,367.4L195.9,368.2L197.0,369.3L197.0,379.0L195.7,377.4Z" fill="#d599e0"/>
<path d="M144.6,324.3L141.9,328.4L144.2,334.3L148.8,340.3L156.5,343.7L157.9,341.1L157.1,338.9L146.1,324.9Z" fill="#d696c8"/>
<path d="M127.5,356.8L135.3,364.5L137.3,359.3L131.9,349.6L126.6,347.9Z" fill="#de9fd4"/>
<path d="M152.5,412.9L153.3,424.9L154.6,426.4L163.6,426.4L163.1,423.8Z" fill="#d090c9"/>
<path d="M138.6,342.8L146.4,349.7L150.2,347.9L148.7,340.4L144.1,334.4L136.7,337.1Z" fill="#d592c5"/>
<path d="M113.2,426.5L111.4,421.2L115.1,418.3L123.2,425.9L123.5,426.5Z" fill="#dc9fce"/>
<path d="M181.8,352.2L173.8,346.2L171.3,342.5L169.5,337.5L171.8,334.2L176.9,337.6L182.1,346.5Z" fill="#d195d3"/>
<path d="M152.4,374.3L153.1,371.2L149.1,362.3L143.0,356.9L140.1,360.9L148.8,372.7Z" fill="#d28dc8"/>
<path d="M170.3,379.7L175.3,380.1L182.4,392.0L182.5,397.3L173.1,389.0Z" fill="#ca92c9"/>
<path d="M112.5,372.8L120.2,377.0L125.9,389.8L125.8,391.1L124.3,391.2L114.2,380.7Z" fill="#e69fd7"/>
<path d="M177.6,321.9L173.9,316.6L173.7,316.0L181.2,316.0L185.4,322.5L182.4,325.3Z" fill="#d497d1"/>
<path d="M100.8,316.0L101.8,317.9L95.4,322.0L92.7,316.0Z" fill="#cc90cf"/>
<path d="M56.3,315.4L50.4,315.4L56.4,319.4L57.3,317.9Z" fill="#b97dc8"/>
<path d="M182.2,346.5L177.0,337.6L179.1,334.4L187.5,340.3L187.9,348.3Z" fill="#ce90cc"/>
<path d="M197.0,351.1L189.3,340.5L195.0,340.1L197.0,342.2Z" fill="#c58acd"/>
<path d="M192.3,363.4L185.8,359.3L184.6,364.8L193.3,376.5L195.6,377.3L194.7,367.3Z" fill="#cd91d9"/>
<path d="M51.1,410.0L50.4,401.6L60.0,406.9L65.6,420.6L64.4,423.2Z" fill="#b986d2"/>
<path d="M96.2,347.9L89.9,339.7L86.4,343.8L91.7,353.1L95.0,354.7Z" fill="#cc91d3"/>
<path d="M158.1,331.6L157.4,339.0L158.1,341.2L165.2,347.2L167.4,343.3Z" fill="#d996d4"/>
<path d="M73.4,415.3L81.4,415.3L83.2,426.4L81.2,426.4L73.7,416.1Z" fill="#c087cc"/>
<path d="M85.8,316.1L91.2,322.6L91.6,330.6L91.2,330.7L79.9,319.7L80.8,316.1Z" fill="#be89cd"/>
<path d="M106.0,387.4L111.7,391.3L116.1,401.5L106.6,401.0L104.0,396.3Z" fill="#dc9dd5"/>
<path d="M156.0,399.7L145.4,384.9L148.1,396.3L155.0,401.9Z" fill="#d598cb"/>
<path d="M171.6,333.9L169.3,337.3L160.5,328.3L159.7,317.9L168.7,326.9Z" fill="#cf95ca"/>
<path d="M192.4,363.4L193.2,356.8L197.0,358.5L197.0,367.2L195.9,368.1L194.8,367.2Z" fill="#c687c7"/>
<path d="M123.2,398.7L124.5,391.5L125.9,391.4L133.1,401.3L134.0,407.1L124.1,400.9Z" fill="#d89bcf"/>
<path d="M102.7,366.0L108.8,367.6L107.1,360.9L106.5,359.9L97.2,357.4Z" fill="#c98ec7"/>
<path d="M121.8,316.1L126.5,326.7L132.3,331.1L131.4,317.9L126.6,316.1Z" fill="#d48ec7"/>
<path d="M153.7,376.6L165.9,387.9L162.6,394.6L159.6,393.1Z" fill="#d997c9"/>
<path d="M106.4,316.0L107.3,322.6L106.2,322.4L101.9,317.9L100.9,316.0Z" fill="#d296ce"/>
<g filter="url(#blur2)" fill="#d8d6e4" opacity="0.85">
<path d="M50,366 L58,368 L72,390 L86,424 L76,428 L62,402 L50,390 Z"/>
<path d="M176,316 L183,316 L193,348 L197,370 L189,354 Z"/>
<path d="M82,316 L94,316 L97,330 L88,338 Z"/>
</g>
<g fill="none" stroke="#e4dcea" stroke-width="2.2" opacity="0.75" filter="url(#blur1)" stroke-linecap="round">
<path d="M93,340 Q100,362 108,378 T119,401"/>
<path d="M143,326 Q150,360 152,385 T157,423"/>
<path d="M86,318 Q90,335 93,352"/>
</g>
</g>
<ellipse cx="106.8" cy="371.6" rx="0.8" ry="1.6" transform="rotate(-32 106.8 371.6)" fill="#3a3a88" opacity="0.6"/>
<ellipse cx="94.7" cy="387.6" rx="0.8" ry="1.6" transform="rotate(-32 94.7 387.6)" fill="#3a3a88" opacity="0.6"/>
<ellipse cx="77.4" cy="413.7" rx="0.8" ry="1.6" transform="rotate(-32 77.4 413.7)" fill="#3a3a88" opacity="0.6"/>
<ellipse cx="188.4" cy="370.5" rx="0.8" ry="1.6" transform="rotate(-32 188.4 370.5)" fill="#3a3a88" opacity="0.6"/>
<ellipse cx="118.6" cy="408.8" rx="0.8" ry="1.6" transform="rotate(-32 118.6 408.8)" fill="#3a3a88" opacity="0.6"/>
<ellipse cx="93.9" cy="402.9" rx="0.8" ry="1.6" transform="rotate(-32 93.9 402.9)" fill="#3a3a88" opacity="0.6"/>
<ellipse cx="93.5" cy="394.2" rx="0.8" ry="1.6" transform="rotate(-32 93.5 394.2)" fill="#3a3a88" opacity="0.6"/>
<ellipse cx="100.1" cy="382.0" rx="0.8" ry="1.6" transform="rotate(-32 100.1 382.0)" fill="#3a3a88" opacity="0.6"/>
<ellipse cx="183.5" cy="324.7" rx="0.8" ry="1.6" transform="rotate(-32 183.5 324.7)" fill="#3a3a88" opacity="0.6"/>
<ellipse cx="166.8" cy="375.6" rx="0.8" ry="1.6" transform="rotate(-32 166.8 375.6)" fill="#3a3a88" opacity="0.6"/>
<ellipse cx="106.4" cy="355.6" rx="0.8" ry="1.6" transform="rotate(-32 106.4 355.6)" fill="#3a3a88" opacity="0.6"/>
<ellipse cx="62.8" cy="346.0" rx="0.8" ry="1.6" transform="rotate(-32 62.8 346.0)" fill="#3a3a88" opacity="0.6"/>
<ellipse cx="140.9" cy="329.2" rx="0.8" ry="1.6" transform="rotate(-32 140.9 329.2)" fill="#3a3a88" opacity="0.6"/>
<ellipse cx="147.4" cy="419.6" rx="0.8" ry="1.6" transform="rotate(-32 147.4 419.6)" fill="#3a3a88" opacity="0.6"/>
<ellipse cx="191.3" cy="411.9" rx="0.8" ry="1.6" transform="rotate(-32 191.3 411.9)" fill="#3a3a88" opacity="0.6"/>
<ellipse cx="166.7" cy="337.6" rx="0.8" ry="1.6" transform="rotate(-32 166.7 337.6)" fill="#3a3a88" opacity="0.6"/>
<ellipse cx="189.8" cy="340.2" rx="0.8" ry="1.6" transform="rotate(-32 189.8 340.2)" fill="#3a3a88" opacity="0.6"/>
<ellipse cx="175.5" cy="410.7" rx="0.8" ry="1.6" transform="rotate(-32 175.5 410.7)" fill="#3a3a88" opacity="0.6"/>
<ellipse cx="140.7" cy="373.5" rx="0.8" ry="1.6" transform="rotate(-32 140.7 373.5)" fill="#3a3a88" opacity="0.6"/>
<ellipse cx="81.3" cy="373.3" rx="0.8" ry="1.6" transform="rotate(-32 81.3 373.3)" fill="#3a3a88" opacity="0.6"/>
<ellipse cx="94.0" cy="332.2" rx="0.8" ry="1.6" transform="rotate(-32 94.0 332.2)" fill="#3a3a88" opacity="0.6"/>
<ellipse cx="71.1" cy="402.7" rx="0.8" ry="1.6" transform="rotate(-32 71.1 402.7)" fill="#3a3a88" opacity="0.6"/>
<ellipse cx="183.1" cy="333.8" rx="0.8" ry="1.6" transform="rotate(-32 183.1 333.8)" fill="#3a3a88" opacity="0.6"/>
<ellipse cx="54.9" cy="346.5" rx="0.8" ry="1.6" transform="rotate(-32 54.9 346.5)" fill="#3a3a88" opacity="0.6"/>
<ellipse cx="72.0" cy="338.7" rx="0.8" ry="1.6" transform="rotate(-32 72.0 338.7)" fill="#3a3a88" opacity="0.6"/>
<ellipse cx="135.2" cy="363.1" rx="0.8" ry="1.6" transform="rotate(-32 135.2 363.1)" fill="#3a3a88" opacity="0.6"/>
<ellipse cx="113.5" cy="340.5" rx="0.8" ry="1.6" transform="rotate(-32 113.5 340.5)" fill="#3a3a88" opacity="0.6"/>
<ellipse cx="146.7" cy="349.3" rx="0.8" ry="1.6" transform="rotate(-32 146.7 349.3)" fill="#3a3a88" opacity="0.6"/>
<ellipse cx="109.3" cy="367.4" rx="0.8" ry="1.6" transform="rotate(-32 109.3 367.4)" fill="#3a3a88" opacity="0.6"/>
<ellipse cx="180.5" cy="344.7" rx="0.8" ry="1.6" transform="rotate(-32 180.5 344.7)" fill="#3a3a88" opacity="0.6"/>
<ellipse cx="154.3" cy="351.3" rx="0.8" ry="1.6" transform="rotate(-32 154.3 351.3)" fill="#3a3a88" opacity="0.6"/>
<ellipse cx="179.1" cy="360.2" rx="0.8" ry="1.6" transform="rotate(-32 179.1 360.2)" fill="#3a3a88" opacity="0.6"/>
<ellipse cx="124.2" cy="410.7" rx="0.8" ry="1.6" transform="rotate(-32 124.2 410.7)" fill="#3a3a88" opacity="0.6"/>
<ellipse cx="147.9" cy="328.9" rx="0.8" ry="1.6" transform="rotate(-32 147.9 328.9)" fill="#3a3a88" opacity="0.6"/>
<ellipse cx="72.3" cy="422.5" rx="0.8" ry="1.6" transform="rotate(-32 72.3 422.5)" fill="#3a3a88" opacity="0.6"/>
<ellipse cx="57.1" cy="350.4" rx="0.8" ry="1.6" transform="rotate(-32 57.1 350.4)" fill="#3a3a88" opacity="0.6"/>
<ellipse cx="188.2" cy="320.6" rx="0.8" ry="1.6" transform="rotate(-32 188.2 320.6)" fill="#3a3a88" opacity="0.6"/>
<ellipse cx="75.8" cy="341.3" rx="0.8" ry="1.6" transform="rotate(-32 75.8 341.3)" fill="#3a3a88" opacity="0.6"/>
<ellipse cx="65.2" cy="368.3" rx="0.8" ry="1.6" transform="rotate(-32 65.2 368.3)" fill="#3a3a88" opacity="0.6"/>
<ellipse cx="136.5" cy="352.3" rx="0.8" ry="1.6" transform="rotate(-32 136.5 352.3)" fill="#3a3a88" opacity="0.6"/>
<rect x="181" y="421.5" width="12" height="1.3" fill="#fff"/>
</g>
<clipPath id="cpB"><rect x="52" y="426.4" width="143" height="106.5"/></clipPath>
<g clip-path="url(#cpB)">
<g filter="url(#soft2)">
<rect x="49" y="423.4" width="149" height="112.5" fill="#c3c8e6"/>
<path d="M87.5,526.2L87.3,518.2L88.6,517.5L95.5,519.4L92.1,526.1Z" fill="#c4a7dd"/>
<path d="M191.8,469.3L196.5,463.4L196.5,460.7L189.3,456.4L189.1,456.5L185.9,464.4L187.6,468.1Z" fill="#cb9acc"/>
<path d="M117.3,462.7L109.8,465.3L108.3,461.4L111.8,456.1L113.9,455.3L118.2,461.3Z" fill="#ba9ed3"/>
<path d="M50.0,474.0L50.0,479.1L53.2,480.3L55.7,475.1L52.6,473.0Z" fill="#b39dda"/>
<path d="M78.5,447.1L75.7,447.4L71.8,443.4L73.4,441.3L79.1,440.4L80.3,441.1L81.0,444.0Z" fill="#bcaae3"/>
<path d="M65.9,438.7L70.0,434.9L68.0,431.3L63.4,431.5L62.6,435.0Z" fill="#c0a5e3"/>
<path d="M178.9,474.6L181.4,474.4L186.5,468.6L184.8,464.9L178.2,464.3L175.9,468.4Z" fill="#ce9ed1"/>
<path d="M80.5,497.1L82.1,496.3L81.3,489.7L77.6,489.6L74.7,492.9L75.4,494.8Z" fill="#b298d2"/>
<path d="M137.8,504.1L140.0,506.1L147.2,504.1L149.0,498.7L141.8,494.7L137.5,497.7Z" fill="#c49cd0"/>
<path d="M197.0,424.5L195.7,424.5L192.7,430.1L197.0,432.2Z" fill="#c692ca"/>
<path d="M95.5,448.4L100.4,453.0L102.3,453.2L103.2,452.6L104.9,447.3L103.2,444.4L98.4,443.9L95.4,446.5Z" fill="#c6ade1"/>
<path d="M98.9,463.5L103.1,460.0L107.7,461.6L109.3,465.8L108.0,469.2L104.4,469.1Z" fill="#c5a7dc"/>
<path d="M147.7,467.0L141.3,468.2L139.8,474.7L142.2,477.7L149.3,475.4L148.1,467.1Z" fill="#c7a5d8"/>
<path d="M143.4,433.3L137.6,437.0L141.1,443.3L149.7,442.9L149.8,442.7L145.5,433.6Z" fill="#cba6dd"/>
<path d="M53.2,456.9L58.4,458.0L59.2,456.9L58.5,451.5L58.1,451.2L53.4,452.3L53.0,456.6Z" fill="#b9a8e2"/>
<path d="M50.0,463.0L52.0,462.5L52.8,457.2L52.6,456.9L50.0,457.0Z" fill="#ac9bd2"/>
<path d="M115.3,517.4L122.3,512.6L122.6,511.3L121.0,507.1L115.9,505.2L112.1,506.2L111.0,514.3Z" fill="#c39ed5"/>
<path d="M96.3,478.6L97.5,484.0L103.1,483.1L104.4,478.5L99.7,475.7Z" fill="#bca1d8"/>
<path d="M170.1,457.6L174.9,456.1L177.3,452.1L177.2,451.7L165.3,445.3L162.3,449.3L163.5,454.1Z" fill="#d4adda"/>
<path d="M112.9,442.5L110.3,447.0L114.5,453.1L117.4,450.8L118.1,444.0Z" fill="#b999ca"/>
<path d="M110.8,479.1L111.2,483.5L115.0,485.6L119.1,480.9L119.1,480.9L115.7,477.5Z" fill="#bb9bce"/>
<path d="M140.0,511.6L139.8,506.3L137.6,504.3L132.4,506.2L131.0,510.7L133.6,514.3Z" fill="#c19bd2"/>
<path d="M74.5,502.5L77.7,502.9L78.2,502.6L80.2,497.3L75.4,495.2L72.4,500.0Z" fill="#c3a9e1"/>
<path d="M50.2,492.4L49.8,492.4L49.8,500.1L50.0,500.1L51.9,496.9Z" fill="#b19cd7"/>
<path d="M119.8,424.4L121.0,428.2L115.0,431.8L110.9,425.4L111.0,424.4Z" fill="#c6a1d7"/>
<path d="M85.3,532.4L86.8,534.0L86.8,535.1L79.7,535.1L80.4,533.5Z" fill="#b196d0"/>
<path d="M123.4,439.8L126.7,433.1L132.2,433.4L134.9,436.7L129.8,444.3L128.4,444.8L123.5,440.7Z" fill="#bf9cd3"/>
<path d="M58.1,428.9L60.9,429.0L63.2,431.5L62.4,435.0L58.6,436.7L55.5,433.6L55.5,432.3Z" fill="#b39cda"/>
<path d="M89.2,430.8L93.5,436.3L96.4,436.3L98.4,434.8L99.4,431.5L94.7,427.5L89.3,430.3Z" fill="#c4aadf"/>
<path d="M74.0,474.4L73.9,474.1L74.3,470.2L78.3,467.6L83.7,473.0L82.9,474.2L76.6,475.9Z" fill="#b59dd8"/>
<path d="M58.0,467.3L58.8,474.3L64.8,471.4L65.1,469.4L62.1,466.6Z" fill="#b8a8e0"/>
<path d="M196.7,432.8L192.8,430.8L190.4,431.7L188.2,436.4L189.4,440.4L189.9,440.8L196.7,439.9Z" fill="#d3a6d7"/>
<path d="M111.0,505.0L112.1,505.5L115.7,504.6L116.7,497.8L112.3,493.9L111.3,494.1L108.9,500.6Z" fill="#c29fdb"/>
<path d="M84.3,424.3L87.0,424.9L87.5,424.3Z" fill="#b59ad0"/>
<path d="M153.7,424.3L153.7,424.8L152.4,426.2L148.5,424.3Z" fill="#c598d0"/>
<path d="M128.8,466.1L131.3,467.6L138.6,465.9L138.3,459.6L135.0,456.8L134.7,456.8L128.0,464.0Z" fill="#b998cb"/>
<path d="M62.0,527.4L63.7,523.7L67.1,522.9L69.6,524.7L68.3,530.2L62.5,529.3Z" fill="#b29fdb"/>
<path d="M156.8,528.9L158.1,531.3L160.7,532.7L169.0,530.3L171.2,523.4L170.7,522.5L162.0,517.5L158.4,519.4Z" fill="#cea3d7"/>
<path d="M155.1,449.1L162.0,449.1L165.0,445.1L165.0,444.1L160.2,437.0L158.2,436.8L150.1,442.8L150.1,443.0L150.7,445.1Z" fill="#d3a7d9"/>
<path d="M130.0,534.8L131.9,529.2L134.9,529.1L139.1,532.9L138.6,534.8Z" fill="#be9ad2"/>
<path d="M152.6,517.0L158.2,519.1L161.8,517.2L162.4,513.0L157.4,507.5L150.8,510.3L150.2,512.3Z" fill="#cfa0d8"/>
<path d="M115.5,520.3L112.6,524.6L106.6,524.0L106.6,516.1L110.9,514.5L115.2,517.6Z" fill="#c4a7dc"/>
<path d="M175.8,456.6L178.0,453.0L188.1,456.2L184.9,463.9L178.3,463.3Z" fill="#d6a6d7"/>
<path d="M152.8,456.5L157.7,461.8L157.7,462.4L155.3,465.4L148.2,466.9L147.9,466.7L146.3,457.8L146.6,457.4Z" fill="#d0a7db"/>
<path d="M188.5,481.3L181.5,475.3L178.7,475.6L175.4,479.6L175.1,485.1L184.4,488.7Z" fill="#c798cd"/>
<path d="M80.6,497.3L82.2,496.5L84.0,496.9L87.3,503.8L86.6,505.5L78.5,502.9Z" fill="#ac99cb"/>
<path d="M158.0,462.6L155.6,465.6L158.4,474.2L162.8,475.8L164.7,474.8L167.3,467.8L166.4,465.9Z" fill="#d2a9df"/>
<path d="M54.8,443.3L55.0,442.6L58.5,439.5L63.5,441.9L63.0,444.7L58.2,446.1Z" fill="#ae98cf"/>
<path d="M91.6,477.1L87.7,482.2L94.4,487.3L95.8,486.6L97.3,484.1L96.1,478.7Z" fill="#b89ece"/>
<path d="M50.1,428.1L53.6,424.5L55.3,424.5L58.0,428.8L55.4,432.1L50.1,429.8Z" fill="#aa9bd5"/>
<path d="M71.2,535.4L69.8,535.4L70.2,534.9Z" fill="#b39bd7"/>
<path d="M77.9,503.4L78.3,511.0L81.8,511.2L86.9,507.3L86.6,505.6L78.4,503.0Z" fill="#b59eda"/>
<path d="M154.0,424.3L154.0,424.8L163.6,425.0L164.1,424.3Z" fill="#cca2d6"/>
<path d="M49.9,519.1L50.0,519.3L49.9,519.5Z" fill="#b19cd9"/>
<path d="M190.0,481.1L196.9,485.3L196.9,488.2L195.9,493.1L194.6,494.3L186.7,493.7L184.7,488.8L188.8,481.4Z" fill="#d4a6db"/>
<path d="M189.7,534.9L189.4,531.2L192.7,529.1L197.0,529.4L197.0,534.9Z" fill="#cc9fd5"/>
<path d="M120.5,480.8L120.5,480.9L125.2,485.1L130.3,481.2L130.0,478.4L125.0,476.5Z" fill="#c6aadf"/>
<path d="M179.5,508.9L186.7,506.1L190.4,507.9L189.9,516.6L183.8,517.7L178.8,510.2Z" fill="#cfa3d2"/>
<path d="M61.8,504.8L58.6,509.3L58.9,510.3L61.4,511.5L65.0,509.7L65.9,506.9Z" fill="#aa9bd0"/>
<path d="M92.3,526.2L95.6,519.5L96.4,519.2L97.1,519.4L102.3,526.0L95.3,529.6Z" fill="#af99d0"/>
<path d="M114.7,530.1L120.9,529.6L122.9,534.9L113.9,534.9L112.9,533.4Z" fill="#c8a8e0"/>
<path d="M108.0,477.0L108.3,469.6L116.1,472.5L115.8,476.9L110.4,478.8Z" fill="#c9abe1"/>
<path d="M174.1,511.8L170.7,521.7L162.6,517.0L163.1,513.1L168.4,508.8Z" fill="#d5a6d4"/>
<path d="M172.7,535.0L169.1,530.6L160.8,533.1L160.9,535.0Z" fill="#cd9ed1"/>
<path d="M49.7,449.1L50.4,449.9L49.7,450.3Z" fill="#a994cf"/>
<path d="M183.8,489.3L175.3,486.1L172.5,488.6L172.3,489.7L175.9,498.1L176.3,498.2L184.5,495.2L185.6,493.8Z" fill="#ca9ecf"/>
<path d="M51.8,534.0L54.9,530.6L54.0,526.6L52.3,526.3L50.0,527.8L50.0,532.4L51.4,534.1Z" fill="#b49fdd"/>
<path d="M66.3,438.8L70.0,435.5L71.4,435.9L72.9,441.0L71.5,442.9L71.1,443.0L66.2,440.1Z" fill="#b89dd7"/>
<path d="M112.2,493.3L115.4,488.7L115.0,486.2L110.8,484.0L106.4,486.3L105.7,491.1L111.2,493.6Z" fill="#b699d1"/>
<path d="M186.8,494.5L185.8,496.0L187.0,505.6L190.5,507.3L196.5,504.9L196.5,502.4L194.4,495.0Z" fill="#c899cf"/>
<path d="M178.9,534.8L184.8,530.0L180.4,523.5L171.6,523.5L169.4,530.4L173.0,534.8Z" fill="#ca9ed1"/>
<path d="M114.6,433.7L122.8,439.9L122.9,440.9L118.2,443.8L112.9,442.4L110.4,437.1Z" fill="#c7a8db"/>
<path d="M134.4,424.7L128.0,424.7L124.7,429.2L126.8,432.3L132.2,432.6L135.0,425.2Z" fill="#d0a6dc"/>
<path d="M86.4,449.2L81.2,453.7L81.0,453.6L78.6,447.3L81.1,444.1L86.3,446.7Z" fill="#c0a8e2"/>
<path d="M122.5,495.7L123.7,491.9L125.1,490.8L130.2,492.5L131.9,496.0L126.9,501.1L126.2,501.1Z" fill="#caa6d9"/>
<path d="M85.7,463.6L79.7,463.8L78.2,461.6L81.5,454.7L86.6,457.9Z" fill="#c1a7e1"/>
<path d="M119.0,461.2L122.8,460.7L126.2,451.7L117.6,451.0L114.7,453.3L114.3,454.6Z" fill="#bea0d7"/>
<path d="M175.5,433.9L177.0,425.7L181.1,424.5L184.5,424.5L189.6,431.1L187.1,436.3L175.5,434.0Z" fill="#d4a8db"/>
<path d="M146.4,457.2L146.1,457.7L138.5,459.4L135.2,456.6L138.9,450.2L144.9,452.1Z" fill="#c19ccc"/>
<path d="M98.8,462.9L102.6,459.7L102.1,453.8L100.3,453.7L94.8,457.8L96.0,462.2L96.8,462.9Z" fill="#bba4da"/>
<path d="M74.2,502.8L71.5,507.2L66.9,506.4L68.5,499.6L72.0,500.2Z" fill="#bca6dc"/>
<path d="M68.8,493.1L67.6,498.8L65.5,498.6L62.3,495.5L64.6,491.0Z" fill="#b6a7dd"/>
<path d="M73.2,511.1L68.9,513.2L68.1,516.8L74.7,518.7L75.7,518.2L76.1,512.4Z" fill="#bda5e0"/>
<path d="M75.0,484.4L77.6,489.4L81.3,489.5L83.5,487.5L84.1,483.0L78.3,482.0Z" fill="#af9acf"/>
<path d="M78.5,481.5L83.9,482.5L84.1,482.3L82.8,474.6L76.9,476.2Z" fill="#b29ed0"/>
<path d="M197.0,460.2L189.3,455.6L191.8,450.2L197.0,449.5Z" fill="#d1a2d1"/>
<path d="M152.7,494.0L151.0,496.9L149.0,497.6L142.6,494.2L142.6,491.5L146.9,486.9L149.3,486.8Z" fill="#d4abde"/>
<path d="M54.0,526.4L55.9,524.8L56.8,520.3L56.7,520.2L50.1,519.4L50.1,519.6L50.1,523.1L52.3,526.2Z" fill="#af9bd6"/>
<path d="M58.3,450.9L58.2,446.2L63.0,444.8L65.6,448.5L64.2,450.8L58.8,451.2Z" fill="#aa97cc"/>
<path d="M115.8,520.7L124.2,524.6L120.7,529.1L114.9,529.6L113.0,524.8Z" fill="#c8a6dd"/>
<path d="M110.2,424.5L102.2,424.5L103.1,428.7L104.7,429.0L110.1,425.3Z" fill="#b996d0"/>
<path d="M139.9,424.3L139.4,424.7L135.6,424.9L134.8,424.3Z" fill="#c79ed7"/>
<path d="M118.8,470.5L118.1,463.0L119.0,461.5L122.9,461.0L127.7,464.1L128.5,466.2L123.6,471.8Z" fill="#cbacdc"/>
<path d="M140.3,511.5L140.1,506.3L147.2,504.3L150.5,510.2L149.9,512.2L142.9,513.8Z" fill="#be98ca"/>
<path d="M100.4,502.2L96.4,502.8L93.6,500.1L93.9,497.6L94.8,496.6L101.1,496.1L102.1,499.0Z" fill="#c1a2dd"/>
<path d="M117.0,497.6L112.4,493.5L115.6,488.8L123.2,491.5L122.0,495.6Z" fill="#bea2d4"/>
<path d="M68.7,513.2L65.5,510.0L61.3,512.2L62.5,516.4L67.3,517.3L67.9,516.8Z" fill="#bda7e2"/>
<path d="M56.0,475.6L53.7,480.3L54.5,482.5L61.8,480.5L61.8,480.4L58.6,475.1Z" fill="#b5a4d9"/>
<path d="M170.2,457.9L175.0,456.4L177.7,463.8L175.1,468.2L167.6,467.7L166.7,465.8Z" fill="#cb9dd3"/>
<path d="M65.8,424.5L63.7,424.5L61.0,428.9L63.4,431.4L68.0,431.1L69.7,427.7L68.9,425.8Z" fill="#ab97cf"/>
<path d="M137.4,497.5L141.6,494.5L141.7,491.5L135.5,486.1L130.7,492.2L132.5,495.8Z" fill="#cbaadd"/>
<path d="M181.0,424.3L176.9,425.4L175.9,424.3Z" fill="#cea4d6"/>
<path d="M95.3,448.4L90.8,453.0L86.6,449.2L86.6,446.7L90.0,444.0L95.2,446.5Z" fill="#ac95cd"/>
<path d="M90.9,477.0L87.5,481.5L84.8,481.9L83.5,474.7L84.2,473.6L87.7,472.2L89.5,473.0Z" fill="#b199d2"/>
<path d="M93.7,535.1L93.7,534.2L87.4,534.1L87.4,535.1Z" fill="#b79fd5"/>
<path d="M159.1,492.3L159.8,485.1L152.1,483.5L149.6,486.0L153.6,494.2Z" fill="#c397ca"/>
<path d="M139.3,522.0L134.9,528.2L131.6,528.4L126.7,523.8L127.4,521.4L133.1,517.4Z" fill="#d1a8de"/>
<path d="M86.7,526.7L87.3,526.2L87.2,518.2L84.3,517.7L79.7,520.5L80.3,524.0Z" fill="#c0a4e0"/>
<path d="M98.8,464.3L103.7,469.2L99.7,472.7L95.4,469.5L96.9,464.3Z" fill="#c9a7df"/>
<path d="M137.5,504.1L137.3,497.7L132.5,496.1L127.0,501.6L132.3,506.0Z" fill="#bf9acb"/>
<path d="M78.9,464.1L77.7,467.2L74.2,469.5L70.4,466.4L70.4,465.0L74.9,461.2L77.6,462.1Z" fill="#aa92cf"/>
<path d="M82.0,431.9L76.7,433.9L79.2,440.2L80.4,440.8L84.1,437.7L84.3,433.2Z" fill="#bfa8e1"/>
<path d="M73.8,474.5L73.7,474.2L66.7,473.8L65.5,480.0L66.1,480.3L70.7,479.6Z" fill="#bca7dd"/>
<path d="M79.7,524.0L79.1,520.8L75.8,518.9L74.9,519.3L72.2,524.0L76.8,527.5Z" fill="#b89fd7"/>
<path d="M100.8,502.6L103.3,507.2L110.7,505.4L108.5,500.8L102.6,499.1Z" fill="#b499c9"/>
<path d="M94.1,534.0L94.1,535.0L99.7,535.0L95.1,533.1Z" fill="#bfa0da"/>
<path d="M112.2,525.2L114.0,529.8L112.3,532.8L108.7,533.6L105.6,531.6L104.2,526.6L106.8,524.7Z" fill="#b494cd"/>
<path d="M86.3,526.9L80.3,524.4L77.4,528.0L77.3,528.8L80.3,532.9L85.2,531.7Z" fill="#c3ade3"/>
<path d="M50.2,467.9L50.2,463.5L52.0,463.0L55.1,465.4L55.3,466.0L52.4,468.8Z" fill="#b7aadf"/>
<path d="M164.8,475.1L162.9,476.1L162.2,483.1L171.7,487.9L174.8,485.1L175.0,479.5Z" fill="#c59ccd"/>
<path d="M82.1,431.8L80.7,427.0L82.9,424.5L84.3,424.5L87.0,425.1L89.1,430.2L88.9,430.7L84.4,433.0Z" fill="#b29dd3"/>
<path d="M86.8,526.9L87.5,526.4L92.1,526.3L95.2,529.7L95.0,532.9L94.0,533.8L87.2,533.7L85.6,532.0Z" fill="#c4a4da"/>
<path d="M135.6,425.2L132.5,433.0L135.5,436.5L137.5,436.8L143.3,433.1L139.4,425.0Z" fill="#bd9ace"/>
<path d="M189.9,516.9L183.9,518.0L180.7,523.4L185.1,529.8L189.2,530.8L192.5,528.8L191.3,518.0Z" fill="#c69bca"/>
<path d="M106.5,515.5L105.2,515.0L102.2,509.9L103.6,507.5L110.5,505.9L111.5,506.4L110.5,514.0Z" fill="#ba9cd0"/>
<path d="M121.1,529.5L123.1,534.8L129.3,534.8L131.4,528.6L126.5,524.0L124.7,524.7Z" fill="#bf9ad0"/>
<path d="M74.3,502.9L71.6,507.2L73.3,510.9L76.2,512.2L78.1,511.0L77.7,503.4Z" fill="#aa99d1"/>
<path d="M96.0,463.9L95.1,463.1L87.1,464.7L88.2,470.9L90.1,471.8L94.4,469.3Z" fill="#bfa5de"/>
<path d="M74.9,483.8L77.8,481.6L76.3,476.5L74.0,475.1L71.2,479.7L74.2,483.7Z" fill="#ab94d3"/>
<path d="M179.2,508.7L175.9,499.1L175.5,499.0L167.8,502.7L168.5,508.2L174.6,511.4L178.5,510.0Z" fill="#d0a9da"/>
<path d="M64.5,490.9L63.8,489.2L61.4,488.0L60.6,488.2L57.7,492.1L58.4,495.6L62.2,495.4Z" fill="#b1a3d7"/>
<path d="M175.4,498.7L171.4,489.5L163.6,495.0L164.6,500.4L167.7,502.5Z" fill="#d3a6d8"/>
<path d="M107.9,477.2L104.6,478.6L103.3,483.1L106.3,486.1L110.7,483.8L110.3,478.9Z" fill="#b999ce"/>
<path d="M87.5,494.7L93.3,497.3L94.3,496.2L93.8,488.4L87.9,490.9Z" fill="#b39bcf"/>
<path d="M146.1,523.7L147.1,526.5L156.5,528.9L158.1,519.4L152.6,517.3Z" fill="#c6a0d0"/>
<path d="M160.6,535.0L160.5,533.1L157.9,531.6L153.3,535.0Z" fill="#d2aadd"/>
<path d="M155.3,449.8L161.6,449.8L162.8,454.2L157.8,461.1L153.4,456.3Z" fill="#be99c9"/>
<path d="M106.0,516.6L104.7,516.1L97.9,519.4L102.5,525.2L103.4,525.5L106.0,523.6Z" fill="#c09fd4"/>
<path d="M165.4,443.6L173.9,437.5L174.8,434.3L174.7,434.2L165.1,431.8L160.8,436.9Z" fill="#cba0d5"/>
<path d="M197.1,488.3L196.2,493.1L197.1,493.2Z" fill="#d6a9d7"/>
<path d="M50.1,505.0L50.1,500.7L50.2,500.6L55.3,503.1L55.3,507.5L51.5,507.9Z" fill="#a792ce"/>
<path d="M75.8,433.5L71.7,435.3L70.1,434.9L68.2,431.2L69.9,427.8L74.6,428.2Z" fill="#b79ed9"/>
<path d="M49.9,479.6L49.9,484.8L52.4,485.2L53.2,484.4L53.6,482.8L52.8,480.6Z" fill="#b9a1de"/>
<path d="M114.2,433.3L114.6,431.9L110.6,425.7L105.0,429.7L109.9,436.5L110.1,436.5Z" fill="#c9a9de"/>
<path d="M137.6,448.2L138.1,450.2L134.8,455.8L134.5,455.8L127.8,451.1L129.1,446.0L130.4,445.6Z" fill="#cdabdc"/>
<path d="M59.0,459.9L58.7,458.3L59.5,457.2L65.5,455.9L67.1,457.2L66.4,460.9L63.1,462.4Z" fill="#b099d4"/>
<path d="M139.2,475.4L141.3,478.0L141.1,480.0L135.5,484.2L131.8,481.0L131.4,478.3L133.6,475.7Z" fill="#c9a6da"/>
<path d="M81.5,431.6L76.8,433.4L76.2,433.1L75.2,428.4L76.7,426.9L80.3,427.4Z" fill="#bfa1de"/>
<path d="M67.2,457.0L71.8,455.6L72.7,453.7L72.5,452.4L68.1,448.3L65.7,448.6L64.3,450.9L65.7,455.8Z" fill="#b7a2df"/>
<path d="M55.3,502.7L50.8,500.5L52.7,497.3L57.3,497.0L58.0,500.9Z" fill="#b59fd7"/>
<path d="M85.9,463.6L86.8,458.0L91.0,455.7L94.1,457.8L95.4,462.6L86.7,464.3Z" fill="#c7a9de"/>
<path d="M159.2,492.6L163.3,495.0L164.3,500.5L158.1,503.6L151.6,497.7L153.7,494.5Z" fill="#cda5d2"/>
<path d="M62.7,516.9L60.5,519.6L63.7,523.3L66.8,522.5L67.0,517.7Z" fill="#bcaee6"/>
<path d="M133.5,514.5L130.8,510.8L122.9,511.4L122.6,512.6L127.3,521.2L133.0,517.2Z" fill="#bd99d0"/>
<path d="M63.2,424.4L60.8,428.3L58.3,428.3L55.9,424.4Z" fill="#b6a0db"/>
<path d="M147.2,534.8L153.2,534.8L157.8,531.5L156.4,529.1L147.1,526.7L144.7,531.2Z" fill="#c9a0d8"/>
<path d="M69.7,424.3L69.0,425.7L65.9,424.3Z" fill="#ab94d0"/>
<path d="M50.0,424.4L50.0,427.9L53.3,424.4Z" fill="#ad9bd7"/>
<path d="M143.0,514.0L149.9,512.4L152.4,517.2L146.0,523.6L142.1,521.3Z" fill="#bb99cb"/>
<path d="M139.2,474.3L140.6,468.4L138.4,466.5L131.8,468.0L133.5,474.6Z" fill="#c49fd7"/>
<path d="M94.8,469.7L90.1,472.4L91.7,476.9L96.2,478.5L99.6,475.6L99.7,473.3Z" fill="#bea6da"/>
<path d="M96.0,510.7L95.1,510.0L89.9,509.8L88.6,517.3L95.5,519.2L96.3,518.9Z" fill="#b397d2"/>
<path d="M188.8,455.6L189.0,455.5L191.5,450.0L189.1,441.6L188.6,441.2L179.0,446.9L177.6,451.6L177.7,452.0Z" fill="#cea4d4"/>
<path d="M50.1,510.8L50.1,510.0L51.5,508.1L55.3,507.7L57.8,509.5L58.2,510.7L55.2,513.9L52.4,513.9Z" fill="#a799d5"/>
<path d="M57.9,467.1L56.0,466.0L55.8,465.2L59.0,460.0L63.0,462.5L62.1,466.5Z" fill="#b19bd8"/>
<path d="M59.8,532.7L58.8,535.0L62.8,535.0L60.6,532.5Z" fill="#b6a1d7"/>
<path d="M102.8,429.4L104.6,429.7L109.8,436.9L105.6,438.9L98.6,434.9L99.6,431.6Z" fill="#bfa5d8"/>
<path d="M87.4,505.5L87.6,507.1L90.2,509.2L94.9,509.4L95.8,503.4L93.0,500.7L88.0,504.0Z" fill="#b9a1d6"/>
<path d="M65.8,440.5L71.0,443.5L68.0,447.9L65.8,448.2L63.3,444.7L63.9,442.1Z" fill="#b8a8e1"/>
<path d="M64.8,471.6L66.6,473.8L65.4,480.0L62.4,480.4L58.8,474.6L58.9,474.5Z" fill="#baa9e2"/>
<path d="M108.4,469.4L108.3,469.3L109.6,465.9L117.9,463.0L118.6,470.5L116.2,472.4Z" fill="#bb95cb"/>
<path d="M87.0,507.5L89.8,509.8L88.5,517.3L87.2,518.0L84.4,517.4L82.0,511.3Z" fill="#c0a6e2"/>
<path d="M94.0,488.4L94.5,487.6L95.9,486.9L102.9,492.4L101.4,495.6L94.4,496.2Z" fill="#bea4db"/>
<path d="M98.5,435.0L96.5,436.5L98.4,443.7L103.2,444.2L105.6,439.0Z" fill="#be9fd4"/>
<path d="M56.4,524.7L57.2,520.6L60.1,520.0L63.3,523.7L61.7,527.1Z" fill="#bba9e2"/>
<path d="M152.2,483.3L152.0,477.1L158.3,474.5L162.7,476.1L161.9,483.1L159.8,484.9Z" fill="#cca3d9"/>
<path d="M154.9,449.3L152.8,456.3L146.6,457.2L145.1,452.1L150.5,445.3Z" fill="#ceaddd"/>
<path d="M197.1,473.9L197.1,463.9L192.4,469.8L194.6,473.5Z" fill="#c29bcb"/>
<path d="M126.2,501.8L126.9,501.8L132.2,506.2L130.8,510.7L122.9,511.2L121.2,507.0Z" fill="#bf9fd2"/>
<path d="M87.9,490.8L83.8,487.5L84.3,483.0L84.6,482.8L87.6,482.3L94.2,487.4L93.8,488.3Z" fill="#bca5db"/>
<path d="M66.0,480.5L65.4,480.2L62.4,480.7L62.4,480.7L61.5,487.8L63.9,489.0L68.0,486.1Z" fill="#ae9ad5"/>
<path d="M100.8,535.0L105.0,532.1L108.5,534.3L108.4,535.0Z" fill="#ba9fd9"/>
<path d="M51.8,534.2L52.7,535.0L50.8,535.0L51.5,534.3Z" fill="#b6a4d7"/>
<path d="M189.4,535.0L189.1,531.2L185.0,530.1L179.1,535.0Z" fill="#cb9bca"/>
<path d="M189.9,480.8L194.1,473.9L191.8,470.0L187.3,468.8L181.6,475.1L188.7,481.1Z" fill="#cea1d8"/>
<path d="M76.6,512.7L76.3,518.0L79.6,520.0L83.9,517.3L81.7,511.7L78.4,511.5Z" fill="#b59cd5"/>
<path d="M80.6,453.4L73.2,453.5L73.0,452.3L75.8,447.8L78.4,447.5Z" fill="#b299d3"/>
<path d="M49.7,509.6L51.0,507.9L49.7,505.3Z" fill="#a699d2"/>
<path d="M54.5,443.3L50.0,442.9L50.0,436.7L51.7,436.8L54.8,442.6L54.6,443.2Z" fill="#af9ed7"/>
<path d="M65.2,498.8L61.2,502.3L58.6,500.9L57.9,496.7L58.5,495.9L62.2,495.8Z" fill="#ac9cd4"/>
<path d="M146.1,433.6L150.1,442.1L157.7,436.5L152.1,428.7Z" fill="#c19ad2"/>
<path d="M62.5,529.5L68.3,530.3L69.8,532.5L69.9,534.3L69.4,534.9L63.0,534.9L60.7,532.1Z" fill="#ad9ad6"/>
<path d="M174.6,433.2L176.0,425.8L175.0,424.8L165.0,424.8L164.5,425.5L165.5,430.9Z" fill="#d4a5d9"/>
<path d="M151.7,483.2L151.5,477.3L149.3,475.9L142.5,478.0L142.3,480.2L146.8,485.7L149.3,485.5Z" fill="#c199ce"/>
<path d="M141.9,522.0L145.4,524.1L146.3,526.6L144.1,530.8L139.8,532.1L135.6,528.3L139.5,522.5Z" fill="#caa7d5"/>
<path d="M114.7,433.6L115.2,432.0L121.1,428.4L124.2,429.4L126.4,432.8L122.9,439.8Z" fill="#c8a8dd"/>
<path d="M67.3,457.2L71.9,455.8L74.9,460.6L69.9,464.9L66.6,460.9Z" fill="#b9a7df"/>
<path d="M58.0,450.7L57.9,446.4L54.7,443.7L54.6,443.7L51.4,449.9L53.3,451.8Z" fill="#b6a0dd"/>
<path d="M74.9,484.4L77.4,489.5L74.6,492.8L71.4,491.7L70.7,486.9L74.1,484.4Z" fill="#b09cd7"/>
<path d="M123.0,460.8L126.4,451.8L127.0,451.3L134.5,456.7L127.9,463.8Z" fill="#ba9dd0"/>
<path d="M78.0,461.5L75.1,460.5L72.0,455.7L73.0,453.8L80.9,453.8L81.1,453.9L81.3,454.6Z" fill="#bfa4dc"/>
<path d="M95.3,446.3L98.2,443.7L96.4,436.6L93.5,436.6L90.0,440.4L90.1,443.8Z" fill="#af93ca"/>
<path d="M115.8,520.2L124.6,524.4L126.3,523.7L127.1,521.3L122.4,512.7L115.4,517.5Z" fill="#c3a0d5"/>
<path d="M197.0,517.4L191.9,518.2L193.0,528.3L197.0,528.6Z" fill="#d5a6de"/>
<path d="M118.5,444.2L117.8,450.6L125.9,451.3L126.5,450.9L127.8,445.5L122.9,441.5Z" fill="#c09ece"/>
<path d="M196.7,493.8L197.6,493.9L197.6,501.9L195.6,494.9Z" fill="#d6aadd"/>
<path d="M65.8,438.8L62.5,435.1L58.7,436.9L58.5,439.4L63.6,441.8L65.6,440.1Z" fill="#ae98d4"/>
<path d="M175.5,434.3L187.1,436.6L188.5,441.0L178.9,446.8L174.5,437.6Z" fill="#c69ccc"/>
<path d="M112.7,533.5L113.8,535.0L108.5,535.0L108.7,534.4Z" fill="#b79ccf"/>
<path d="M62.2,466.5L63.2,462.6L66.4,461.0L69.7,465.0L69.7,466.6L65.2,469.2Z" fill="#ad9ad1"/>
<path d="M117.1,497.7L116.0,504.9L121.1,506.8L126.0,501.7L122.0,495.8Z" fill="#c9a8db"/>
<path d="M197.0,485.1L190.1,480.9L194.3,474.0L197.0,474.5Z" fill="#d5a8d7"/>
<path d="M56.9,520.1L60.0,519.5L62.4,516.5L61.1,512.2L58.4,510.8L55.3,514.0L56.9,520.1Z" fill="#ac9bce"/>
<path d="M101.8,509.9L104.9,515.4L97.2,519.1L96.5,518.9L96.1,510.7Z" fill="#c4acde"/>
<path d="M58.3,439.4L54.9,442.5L51.8,436.8L55.4,433.7L58.5,436.9Z" fill="#bba8df"/>
<path d="M76.9,528.0L71.8,524.1L69.7,524.7L68.5,530.2L70.0,532.4L76.8,528.8Z" fill="#b29ad0"/>
<path d="M95.2,424.5L94.8,427.4L99.5,431.4L102.6,429.2L101.6,424.5Z" fill="#bda1dc"/>
<path d="M97.6,484.2L96.1,486.8L103.0,492.3L105.5,491.1L106.2,486.3L103.2,483.3Z" fill="#c7aae1"/>
<path d="M114.0,454.5L114.4,453.2L110.1,447.1L105.1,447.3L103.4,452.7L111.6,455.3Z" fill="#bb99cf"/>
<path d="M178.5,511.1L183.0,517.8L180.1,522.5L172.3,522.5L171.9,521.7L175.0,512.3Z" fill="#cda6d6"/>
<path d="M65.3,469.4L69.8,466.8L74.1,470.2L73.7,474.1L66.7,473.7L65.0,471.5Z" fill="#b4a3d8"/>
<path d="M50.0,517.2L52.3,514.0L50.0,510.9Z" fill="#af9cdb"/>
<path d="M86.4,446.3L81.4,443.8L80.8,441.0L84.3,438.0L89.6,440.4L89.7,443.7Z" fill="#c5ace3"/>
<path d="M85.5,464.2L79.9,464.4L78.8,467.6L83.7,472.5L87.3,471.0L86.2,464.8Z" fill="#ac98ce"/>
<path d="M86.6,457.4L82.0,454.5L81.8,453.8L86.5,449.7L90.3,453.2L90.5,455.3Z" fill="#b99bd4"/>
<path d="M116.3,472.5L118.8,470.7L123.6,472.0L124.8,475.9L119.8,480.7L116.0,476.9Z" fill="#c2a1dd"/>
<path d="M52.1,489.8L52.5,485.8L49.9,485.5L49.9,491.7L50.3,491.7Z" fill="#a796d2"/>
<path d="M124.8,490.2L123.2,491.3L115.7,488.6L115.3,486.2L119.8,481.0L125.0,485.8Z" fill="#cbabe0"/>
<path d="M87.4,503.7L92.9,500.1L93.2,497.4L87.5,494.8L84.2,496.8Z" fill="#c1aae2"/>
<path d="M153.3,426.7L154.5,425.5L163.2,425.7L164.2,431.2L160.1,436.0L158.3,435.8L153.0,428.3Z" fill="#c39ed2"/>
<path d="M167.6,502.7L164.4,500.7L158.3,503.8L157.6,507.3L162.6,512.8L168.2,508.2Z" fill="#cda7db"/>
<path d="M82.8,424.4L76.1,424.4L76.5,426.4L80.6,426.8Z" fill="#baa1dd"/>
<path d="M60.6,488.0L61.4,487.8L62.2,480.7L54.3,482.9L53.9,484.7Z" fill="#bca4e3"/>
<path d="M52.9,489.9L53.3,486.0L54.1,485.2L60.1,488.2L57.5,491.7Z" fill="#b09cd7"/>
<path d="M99.8,534.8L95.2,532.9L95.4,529.7L102.3,526.1L103.4,526.4L104.9,532.0L100.7,534.8Z" fill="#b798d0"/>
<path d="M140.0,424.5L148.4,424.5L152.3,426.3L152.0,428.1L145.6,433.3L143.5,433.0L139.6,424.9Z" fill="#cca5db"/>
<path d="M94.4,457.2L99.8,453.1L95.4,448.9L91.4,453.1L91.5,455.2Z" fill="#b99fd8"/>
<path d="M100.2,473.4L100.2,475.5L104.4,478.1L107.5,476.8L107.8,470.0L107.7,469.8L104.4,469.8Z" fill="#caacdf"/>
<path d="M49.9,534.9L49.9,532.5L51.3,534.2L50.7,534.9Z" fill="#a799ce"/>
<path d="M149.3,498.8L147.4,504.2L150.7,510.1L157.3,507.3L158.0,503.7L151.5,497.9Z" fill="#cca4d8"/>
<path d="M75.6,424.4L70.2,424.4L69.5,425.6L70.2,427.3L74.5,427.7L76.0,426.2Z" fill="#ad97cf"/>
<path d="M155.2,466.2L157.7,474.0L152.0,476.4L149.8,475.1L148.7,467.5Z" fill="#c29ace"/>
<path d="M55.3,530.5L59.6,532.1L60.3,531.8L62.0,529.3L61.5,527.6L56.2,525.1L54.4,526.7Z" fill="#b5a2db"/>
<path d="M179.6,508.2L186.3,505.6L185.0,496.2L176.6,499.3Z" fill="#c795c9"/>
<path d="M89.3,430.1L94.6,427.4L95.0,424.4L87.7,424.4L87.2,425.0Z" fill="#b79acf"/>
<path d="M49.9,456.6L52.3,456.5L52.8,452.2L51.0,450.4L50.7,450.4L49.9,450.8Z" fill="#b7a5df"/>
<path d="M139.2,534.9L147.0,534.9L144.5,531.3L139.8,532.8Z" fill="#cca7db"/>
<path d="M80.1,533.2L79.3,534.9L71.2,534.9L70.1,534.3L70.1,532.5L76.9,529.0Z" fill="#c0a8e1"/>
<path d="M57.6,467.7L55.9,466.7L53.0,469.4L53.1,472.6L55.8,474.5L58.3,474.0L58.4,473.9Z" fill="#b1a0d7"/>
<path d="M74.0,484.3L70.6,486.8L68.2,486.1L66.2,480.5L70.7,479.8Z" fill="#b49dd2"/>
<path d="M110.2,437.2L109.9,437.1L105.7,439.1L103.4,444.3L105.1,447.1L110.1,446.9L112.7,442.5Z" fill="#c09cd2"/>
<path d="M131.0,481.4L125.3,485.8L125.1,490.2L130.6,492.0L135.4,485.9L135.2,485.0Z" fill="#c39dd5"/>
<path d="M167.6,467.9L175.1,468.5L178.5,475.4L175.1,479.3L164.9,474.9Z" fill="#cc9ccf"/>
<path d="M196.8,516.6L191.8,517.4L190.4,516.4L190.9,508.2L196.8,505.9Z" fill="#c594c7"/>
<path d="M102.7,498.9L101.6,495.7L103.1,492.5L105.6,491.3L111.1,493.8L108.6,500.7Z" fill="#caaade"/>
<path d="M74.6,518.8L71.7,523.9L69.7,524.5L67.2,522.7L67.4,517.4L68.0,517.0Z" fill="#b49ad4"/>
<path d="M101.7,509.7L103.2,507.2L100.6,502.6L96.3,503.2L95.2,509.8L96.1,510.5Z" fill="#b594d0"/>
<path d="M72.0,500.0L68.5,499.4L67.8,498.8L68.9,493.2L71.4,491.9L74.5,493.0L75.2,494.9Z" fill="#c1aae0"/>
<path d="M71.5,507.3L66.9,506.6L66.5,506.8L65.6,509.9L68.8,513.1L73.1,511.0Z" fill="#b49bd4"/>
<path d="M196.9,449.0L196.9,440.9L189.8,441.8L192.1,449.6Z" fill="#cc9dcf"/>
<path d="M169.7,457.9L166.4,465.4L158.4,462.2L158.3,461.7L163.5,454.6Z" fill="#c796cc"/>
<path d="M84.5,433.2L84.3,437.7L89.8,440.2L93.3,436.4L89.0,430.9Z" fill="#b79ed3"/>
<path d="M195.5,424.4L192.5,429.9L189.8,430.9L184.7,424.4Z" fill="#cea4d8"/>
<path d="M165.4,444.2L174.3,437.7L178.7,446.8L177.3,451.5L165.4,445.2Z" fill="#d8addd"/>
<path d="M49.8,527.5L49.8,523.4L51.9,526.2Z" fill="#a793d1"/>
<path d="M147.7,466.7L141.3,467.9L138.9,465.9L138.5,459.6L146.1,457.9Z" fill="#d2a7dc"/>
<path d="M127.8,424.4L124.3,429.1L121.2,428.1L120.0,424.4Z" fill="#bd9cd2"/>
<path d="M51.9,534.1L52.8,534.9L58.5,534.9L59.6,532.5L55.0,530.7Z" fill="#b49bd8"/>
<path d="M137.4,437.4L140.7,443.3L138.1,447.5L130.4,444.6L135.5,437.1Z" fill="#c9a2dd"/>
<path d="M150.3,445.2L149.7,443.1L141.2,443.5L138.3,447.9L139.0,450.0L145.0,451.9Z" fill="#be98cc"/>
<path d="M107.8,461.4L103.1,459.8L102.5,453.4L103.3,452.8L111.6,455.5Z" fill="#c9a9df"/>
<path d="M124.2,472.0L128.6,466.9L130.9,468.2L132.6,474.8L130.4,477.4L125.4,475.5Z" fill="#c29bd4"/>
<path d="M159.4,492.4L163.4,494.8L171.3,489.4L171.6,488.1L162.1,483.3L160.0,485.1Z" fill="#c69bcd"/>
<path d="M52.6,490.3L57.3,492.3L58.0,495.5L57.4,496.3L52.5,496.7L50.8,492.2Z" fill="#b19bd8"/>
<path d="M82.3,496.3L81.4,489.7L83.7,487.6L87.8,490.9L87.4,494.7L84.1,496.7Z" fill="#af98d4"/>
<path d="M55.7,465.2L52.2,462.5L53.0,457.2L58.5,458.4L58.8,459.9Z" fill="#a794d1"/>
<path d="M140.1,511.7L133.7,514.5L133.2,517.3L139.4,521.8L141.9,521.2L142.8,514.0Z" fill="#cba6dc"/>
<path d="M71.7,443.5L71.3,443.6L68.2,448.2L72.6,452.3L75.6,447.5Z" fill="#c1abe5"/>
<path d="M50.0,429.9L50.0,436.5L51.7,436.7L55.3,433.6L55.3,432.3Z" fill="#b6a7e1"/>
<path d="M75.8,433.9L71.9,435.6L73.5,441.0L78.8,440.1L76.5,434.2Z" fill="#bca3d9"/>
<path d="M68.8,492.7L71.0,491.5L70.4,487.2L68.1,486.5L64.3,489.2L64.9,490.8Z" fill="#bda8de"/>
<path d="M61.6,504.3L58.0,509.4L55.5,507.5L55.5,503.1L58.4,501.2L61.2,502.7Z" fill="#afa0d8"/>
<path d="M50.0,468.3L52.5,469.2L52.6,472.9L50.0,473.8Z" fill="#beabe6"/>
<path d="M59.1,451.6L63.9,451.3L65.1,455.6L59.7,456.7Z" fill="#a994d2"/>
<path d="M50.1,517.3L50.1,519.0L50.2,519.2L56.7,520.1L55.2,514.1L52.4,514.0Z" fill="#a89bd5"/>
<path d="M68.3,499.6L67.6,499.0L65.5,498.9L61.3,502.6L61.8,504.3L66.4,506.7L66.8,506.4Z" fill="#ac99cf"/>
<path d="M141.8,480.6L146.3,486.1L141.8,491.0L135.9,485.9L135.8,485.0Z" fill="#c599d1"/>
<path d="M54.4,443.4L50.0,443.0L50.0,449.0L50.8,449.9L51.1,449.9Z" fill="#b5a5e0"/>
<g filter="url(#blur2)" fill="#d0e2ea" opacity="0.8">
<path d="M92,461 L104,458 L114,468 L110,476 L98,472 Z"/>
<path d="M86,427 L98,427 L99,441 L92,443 Z"/>
</g>
<g fill="none" stroke="#d0dcec" stroke-width="1.6" opacity="0.7" filter="url(#blur1)" stroke-linejoin="round">
<path d="M52,462 L60,460 L67,463 L75,459 L84,462 L92,461 L99,465 L108,468"/>
<path d="M157,428 L155,437 L158,446 L152,455 L150,466 L146,474 L145,482"/>
<path d="M108,488 L118,490 L127,489 L137,493 L148,492 L158,497 L170,499 L181,503 L192,506"/>
</g>
</g>
<ellipse cx="175.3" cy="515.7" rx="0.9" ry="1.2" fill="#30307a" opacity="0.6"/>
<ellipse cx="76.9" cy="452.2" rx="0.9" ry="1.2" fill="#30307a" opacity="0.6"/>
<ellipse cx="95.2" cy="444.0" rx="0.9" ry="1.2" fill="#30307a" opacity="0.6"/>
<ellipse cx="77.2" cy="445.1" rx="0.9" ry="1.2" fill="#30307a" opacity="0.6"/>
<ellipse cx="158.2" cy="489.6" rx="0.9" ry="1.2" fill="#30307a" opacity="0.6"/>
<ellipse cx="187.7" cy="438.9" rx="0.9" ry="1.2" fill="#30307a" opacity="0.6"/>
<ellipse cx="133.6" cy="452.5" rx="0.9" ry="1.2" fill="#30307a" opacity="0.6"/>
<ellipse cx="69.4" cy="436.6" rx="0.9" ry="1.2" fill="#30307a" opacity="0.6"/>
<ellipse cx="102.4" cy="476.4" rx="0.9" ry="1.2" fill="#30307a" opacity="0.6"/>
<ellipse cx="180.4" cy="514.5" rx="0.9" ry="1.2" fill="#30307a" opacity="0.6"/>
<ellipse cx="187.1" cy="455.3" rx="0.9" ry="1.2" fill="#30307a" opacity="0.6"/>
<ellipse cx="64.7" cy="504.0" rx="0.9" ry="1.2" fill="#30307a" opacity="0.6"/>
<ellipse cx="152.2" cy="495.8" rx="0.9" ry="1.2" fill="#30307a" opacity="0.6"/>
<ellipse cx="79.6" cy="479.3" rx="0.9" ry="1.2" fill="#30307a" opacity="0.6"/>
<ellipse cx="119.5" cy="507.1" rx="0.9" ry="1.2" fill="#30307a" opacity="0.6"/>
<ellipse cx="116.9" cy="436.7" rx="0.9" ry="1.2" fill="#30307a" opacity="0.6"/>
<ellipse cx="142.2" cy="496.2" rx="0.9" ry="1.2" fill="#30307a" opacity="0.6"/>
<ellipse cx="106.9" cy="489.7" rx="0.9" ry="1.2" fill="#30307a" opacity="0.6"/>
<ellipse cx="158.4" cy="440.2" rx="0.9" ry="1.2" fill="#30307a" opacity="0.6"/>
<ellipse cx="178.1" cy="498.6" rx="0.9" ry="1.2" fill="#30307a" opacity="0.6"/>
<ellipse cx="177.4" cy="450.7" rx="0.9" ry="1.2" fill="#30307a" opacity="0.6"/>
<ellipse cx="83.4" cy="526.9" rx="0.9" ry="1.2" fill="#30307a" opacity="0.6"/>
<ellipse cx="91.7" cy="492.8" rx="0.9" ry="1.2" fill="#30307a" opacity="0.6"/>
<ellipse cx="81.4" cy="441.1" rx="0.9" ry="1.2" fill="#30307a" opacity="0.6"/>
<ellipse cx="191.1" cy="476.7" rx="0.9" ry="1.2" fill="#30307a" opacity="0.6"/>
<ellipse cx="116.0" cy="435.6" rx="0.9" ry="1.2" fill="#30307a" opacity="0.6"/>
<ellipse cx="143.2" cy="465.4" rx="0.9" ry="1.2" fill="#30307a" opacity="0.6"/>
<ellipse cx="73.2" cy="530.2" rx="0.9" ry="1.2" fill="#30307a" opacity="0.6"/>
<ellipse cx="149.9" cy="470.6" rx="0.9" ry="1.2" fill="#30307a" opacity="0.6"/>
<ellipse cx="85.4" cy="479.5" rx="0.9" ry="1.2" fill="#30307a" opacity="0.6"/>
<ellipse cx="58.8" cy="484.9" rx="0.9" ry="1.2" fill="#30307a" opacity="0.6"/>
<ellipse cx="75.6" cy="432.4" rx="0.9" ry="1.2" fill="#30307a" opacity="0.6"/>
<ellipse cx="113.7" cy="505.4" rx="0.9" ry="1.2" fill="#30307a" opacity="0.6"/>
<ellipse cx="107.3" cy="491.8" rx="0.9" ry="1.2" fill="#30307a" opacity="0.6"/>
<ellipse cx="94.1" cy="452.6" rx="0.9" ry="1.2" fill="#30307a" opacity="0.6"/>
<ellipse cx="129.0" cy="457.0" rx="0.9" ry="1.2" fill="#30307a" opacity="0.6"/>
<ellipse cx="105.9" cy="444.9" rx="0.9" ry="1.2" fill="#30307a" opacity="0.6"/>
<ellipse cx="93.0" cy="504.5" rx="0.9" ry="1.2" fill="#30307a" opacity="0.6"/>
<ellipse cx="183.3" cy="440.2" rx="0.9" ry="1.2" fill="#30307a" opacity="0.6"/>
<ellipse cx="153.2" cy="529.4" rx="0.9" ry="1.2" fill="#30307a" opacity="0.6"/>
<ellipse cx="103.8" cy="460.7" rx="0.9" ry="1.2" fill="#30307a" opacity="0.6"/>
<ellipse cx="77.9" cy="439.1" rx="0.9" ry="1.2" fill="#30307a" opacity="0.6"/>
<ellipse cx="60.3" cy="432.1" rx="0.9" ry="1.2" fill="#30307a" opacity="0.6"/>
<ellipse cx="59.7" cy="488.9" rx="0.9" ry="1.2" fill="#30307a" opacity="0.6"/>
<ellipse cx="114.6" cy="531.4" rx="0.9" ry="1.2" fill="#30307a" opacity="0.6"/>
<ellipse cx="192.0" cy="489.8" rx="0.9" ry="1.2" fill="#30307a" opacity="0.6"/>
<ellipse cx="92.3" cy="485.9" rx="0.9" ry="1.2" fill="#30307a" opacity="0.6"/>
<ellipse cx="75.5" cy="522.2" rx="0.9" ry="1.2" fill="#30307a" opacity="0.6"/>
<ellipse cx="106.6" cy="456.9" rx="0.9" ry="1.2" fill="#30307a" opacity="0.6"/>
<ellipse cx="62.7" cy="442.2" rx="0.9" ry="1.2" fill="#30307a" opacity="0.6"/>
<ellipse cx="140.9" cy="525.3" rx="0.9" ry="1.2" fill="#30307a" opacity="0.6"/>
<ellipse cx="59.0" cy="482.5" rx="0.9" ry="1.2" fill="#30307a" opacity="0.6"/>
<ellipse cx="74.7" cy="465.7" rx="0.9" ry="1.2" fill="#30307a" opacity="0.6"/>
<ellipse cx="107.1" cy="530.5" rx="0.9" ry="1.2" fill="#30307a" opacity="0.6"/>
<rect x="181" y="529.5" width="10" height="1.4" fill="#fff"/>
</g>
<text transform="translate(219.1,309.9) scale(1.08,1.065)" font-size="17" font-weight="bold" style="stroke-width:0">F</text>
<text x="239.9" y="327.5" font-size="12" text-anchor="start" font-weight="normal" >Control</text>
<text x="288.5" y="327.5" font-size="12" text-anchor="start" font-weight="normal" >NAC</text>
<linearGradient id="gl1" x1="0" y1="0" x2="0" y2="1"><stop offset="0.0000" stop-color="#f8f8f8"/><stop offset="0.0028" stop-color="#bbbbbb"/><stop offset="0.0056" stop-color="#969696"/><stop offset="0.0084" stop-color="#959595"/><stop offset="0.0112" stop-color="#949494"/><stop offset="0.0140" stop-color="#969696"/><stop offset="0.0169" stop-color="#979797"/><stop offset="0.0197" stop-color="#989898"/><stop offset="0.0225" stop-color="#9a9a9a"/><stop offset="0.0253" stop-color="#9c9c9c"/><stop offset="0.0281" stop-color="#9d9d9d"/><stop offset="0.0309" stop-color="#9e9e9e"/><stop offset="0.0337" stop-color="#a0a0a0"/><stop offset="0.0365" stop-color="#a1a1a1"/><stop offset="0.0393" stop-color="#a2a2a2"/><stop offset="0.0421" stop-color="#a2a2a2"/><stop offset="0.0449" stop-color="#a3a3a3"/><stop offset="0.0478" stop-color="#a4a4a4"/><stop offset="0.0506" stop-color="#a5a5a5"/><stop offset="0.0534" stop-color="#a5a5a5"/><stop offset="0.0562" stop-color="#a6a6a6"/><stop offset="0.0590" stop-color="#a7a7a7"/><stop offset="0.0618" stop-color="#a8a8a8"/><stop offset="0.0646" stop-color="#a9a9a9"/><stop offset="0.0674" stop-color="#a9a9a9"/><stop offset="0.0702" stop-color="#aaaaaa"/><stop offset="0.0730" stop-color="#ababab"/><stop offset="0.0758" stop-color="#acacac"/><stop offset="0.0787" stop-color="#acacac"/><stop offset="0.0815" stop-color="#adadad"/><stop offset="0.0843" stop-color="#aeaeae"/><stop offset="0.0871" stop-color="#adadad"/><stop offset="0.0899" stop-color="#acacac"/><stop offset="0.0927" stop-color="#ababab"/><stop offset="0.0955" stop-color="#aaaaaa"/><stop offset="0.0983" stop-color="#a9a9a9"/><stop offset="0.1011" stop-color="#a8a8a8"/><stop offset="0.1039" stop-color="#a7a7a7"/><stop offset="0.1067" stop-color="#a6a6a6"/><stop offset="0.1096" stop-color="#a5a5a5"/><stop offset="0.1124" stop-color="#a4a4a4"/><stop offset="0.1152" stop-color="#a3a3a3"/><stop offset="0.1180" stop-color="#a2a2a2"/><stop offset="0.1208" stop-color="#a1a1a1"/><stop offset="0.1236" stop-color="#a0a0a0"/><stop offset="0.1264" stop-color="#9f9f9f"/><stop offset="0.1292" stop-color="#9e9e9e"/><stop offset="0.1320" stop-color="#9c9c9c"/><stop offset="0.1348" stop-color="#9b9b9b"/><stop offset="0.1376" stop-color="#9a9a9a"/><stop offset="0.1404" stop-color="#999999"/><stop offset="0.1433" stop-color="#989898"/><stop offset="0.1461" stop-color="#979797"/><stop offset="0.1489" stop-color="#969696"/><stop offset="0.1517" stop-color="#949494"/><stop offset="0.1545" stop-color="#939393"/><stop offset="0.1573" stop-color="#929292"/><stop offset="0.1601" stop-color="#919191"/><stop offset="0.1629" stop-color="#909090"/><stop offset="0.1657" stop-color="#8f8f8f"/><stop offset="0.1685" stop-color="#8e8e8e"/><stop offset="0.1713" stop-color="#8d8d8d"/><stop offset="0.1742" stop-color="#8c8c8c"/><stop offset="0.1770" stop-color="#8b8b8b"/><stop offset="0.1798" stop-color="#8a8a8a"/><stop offset="0.1826" stop-color="#898989"/><stop offset="0.1854" stop-color="#888888"/><stop offset="0.1882" stop-color="#878787"/><stop offset="0.1910" stop-color="#868686"/><stop offset="0.1938" stop-color="#858585"/><stop offset="0.1966" stop-color="#848484"/><stop offset="0.1994" stop-color="#838383"/><stop offset="0.2022" stop-color="#828282"/><stop offset="0.2051" stop-color="#818181"/><stop offset="0.2079" stop-color="#818181"/><stop offset="0.2107" stop-color="#808080"/><stop offset="0.2135" stop-color="#808080"/><stop offset="0.2163" stop-color="#7f7f7f"/><stop offset="0.2191" stop-color="#7e7e7e"/><stop offset="0.2219" stop-color="#7e7e7e"/><stop offset="0.2247" stop-color="#7d7d7d"/><stop offset="0.2275" stop-color="#7d7d7d"/><stop offset="0.2303" stop-color="#7c7c7c"/><stop offset="0.2331" stop-color="#7b7b7b"/><stop offset="0.2360" stop-color="#7b7b7b"/><stop offset="0.2388" stop-color="#7a7a7a"/><stop offset="0.2416" stop-color="#7a7a7a"/><stop offset="0.2444" stop-color="#797979"/><stop offset="0.2472" stop-color="#787878"/><stop offset="0.2500" stop-color="#787878"/><stop offset="0.2528" stop-color="#777777"/><stop offset="0.2556" stop-color="#777777"/><stop offset="0.2584" stop-color="#767676"/><stop offset="0.2612" stop-color="#767676"/><stop offset="0.2640" stop-color="#757575"/><stop offset="0.2669" stop-color="#747474"/><stop offset="0.2697" stop-color="#747474"/><stop offset="0.2725" stop-color="#747474"/><stop offset="0.2753" stop-color="#737373"/><stop offset="0.2781" stop-color="#727272"/><stop offset="0.2809" stop-color="#727272"/><stop offset="0.2837" stop-color="#727272"/><stop offset="0.2865" stop-color="#717171"/><stop offset="0.2893" stop-color="#707070"/><stop offset="0.2921" stop-color="#707070"/><stop offset="0.2949" stop-color="#6f6f6f"/><stop offset="0.2978" stop-color="#6f6f6f"/><stop offset="0.3006" stop-color="#6e6e6e"/><stop offset="0.3034" stop-color="#6e6e6e"/><stop offset="0.3062" stop-color="#6e6e6e"/><stop offset="0.3090" stop-color="#6e6e6e"/><stop offset="0.3118" stop-color="#6e6e6e"/><stop offset="0.3146" stop-color="#6e6e6e"/><stop offset="0.3174" stop-color="#6e6e6e"/><stop offset="0.3202" stop-color="#6d6d6d"/><stop offset="0.3230" stop-color="#6a6a6a"/><stop offset="0.3258" stop-color="#676767"/><stop offset="0.3287" stop-color="#656565"/><stop offset="0.3315" stop-color="#666666"/><stop offset="0.3343" stop-color="#696969"/><stop offset="0.3371" stop-color="#6d6d6d"/><stop offset="0.3399" stop-color="#6f6f6f"/><stop offset="0.3427" stop-color="#6c6c6c"/><stop offset="0.3455" stop-color="#686868"/><stop offset="0.3483" stop-color="#636363"/><stop offset="0.3511" stop-color="#606060"/><stop offset="0.3539" stop-color="#616161"/><stop offset="0.3567" stop-color="#676767"/><stop offset="0.3596" stop-color="#6d6d6d"/><stop offset="0.3624" stop-color="#707070"/><stop offset="0.3652" stop-color="#707070"/><stop offset="0.3680" stop-color="#6d6d6d"/><stop offset="0.3708" stop-color="#676767"/><stop offset="0.3736" stop-color="#606060"/><stop offset="0.3764" stop-color="#5c5c5c"/><stop offset="0.3792" stop-color="#5b5b5b"/><stop offset="0.3820" stop-color="#606060"/><stop offset="0.3848" stop-color="#676767"/><stop offset="0.3876" stop-color="#6e6e6e"/><stop offset="0.3904" stop-color="#727272"/><stop offset="0.3933" stop-color="#747474"/><stop offset="0.3961" stop-color="#737373"/><stop offset="0.3989" stop-color="#717171"/><stop offset="0.4017" stop-color="#6e6e6e"/><stop offset="0.4045" stop-color="#696969"/><stop offset="0.4073" stop-color="#636363"/><stop offset="0.4101" stop-color="#5d5d5d"/><stop offset="0.4129" stop-color="#595959"/><stop offset="0.4157" stop-color="#585858"/><stop offset="0.4185" stop-color="#5a5a5a"/><stop offset="0.4213" stop-color="#5f5f5f"/><stop offset="0.4242" stop-color="#656565"/><stop offset="0.4270" stop-color="#6c6c6c"/><stop offset="0.4298" stop-color="#717171"/><stop offset="0.4326" stop-color="#757575"/><stop offset="0.4354" stop-color="#787878"/><stop offset="0.4382" stop-color="#767676"/><stop offset="0.4410" stop-color="#737373"/><stop offset="0.4438" stop-color="#6f6f6f"/><stop offset="0.4466" stop-color="#696969"/><stop offset="0.4494" stop-color="#626262"/><stop offset="0.4522" stop-color="#5c5c5c"/><stop offset="0.4551" stop-color="#575757"/><stop offset="0.4579" stop-color="#555555"/><stop offset="0.4607" stop-color="#565656"/><stop offset="0.4635" stop-color="#5b5b5b"/><stop offset="0.4663" stop-color="#616161"/><stop offset="0.4691" stop-color="#696969"/><stop offset="0.4719" stop-color="#707070"/><stop offset="0.4747" stop-color="#757575"/><stop offset="0.4775" stop-color="#7a7a7a"/><stop offset="0.4803" stop-color="#7c7c7c"/><stop offset="0.4831" stop-color="#7a7a7a"/><stop offset="0.4860" stop-color="#767676"/><stop offset="0.4888" stop-color="#717171"/><stop offset="0.4916" stop-color="#6b6b6b"/><stop offset="0.4944" stop-color="#636363"/><stop offset="0.4972" stop-color="#5c5c5c"/><stop offset="0.5000" stop-color="#565656"/><stop offset="0.5028" stop-color="#535353"/><stop offset="0.5056" stop-color="#535353"/><stop offset="0.5084" stop-color="#565656"/><stop offset="0.5112" stop-color="#5c5c5c"/><stop offset="0.5140" stop-color="#646464"/><stop offset="0.5169" stop-color="#6b6b6b"/><stop offset="0.5197" stop-color="#737373"/><stop offset="0.5225" stop-color="#797979"/><stop offset="0.5253" stop-color="#7d7d7d"/><stop offset="0.5281" stop-color="#808080"/><stop offset="0.5309" stop-color="#7f7f7f"/><stop offset="0.5337" stop-color="#7c7c7c"/><stop offset="0.5365" stop-color="#777777"/><stop offset="0.5393" stop-color="#727272"/><stop offset="0.5421" stop-color="#6b6b6b"/><stop offset="0.5449" stop-color="#636363"/><stop offset="0.5478" stop-color="#5b5b5b"/><stop offset="0.5506" stop-color="#555555"/><stop offset="0.5534" stop-color="#515151"/><stop offset="0.5562" stop-color="#505050"/><stop offset="0.5590" stop-color="#515151"/><stop offset="0.5618" stop-color="#565656"/><stop offset="0.5646" stop-color="#5d5d5d"/><stop offset="0.5674" stop-color="#656565"/><stop offset="0.5702" stop-color="#6d6d6d"/><stop offset="0.5730" stop-color="#757575"/><stop offset="0.5758" stop-color="#7b7b7b"/><stop offset="0.5787" stop-color="#808080"/><stop offset="0.5815" stop-color="#838383"/><stop offset="0.5843" stop-color="#858585"/><stop offset="0.5871" stop-color="#828282"/><stop offset="0.5899" stop-color="#7f7f7f"/><stop offset="0.5927" stop-color="#7a7a7a"/><stop offset="0.5955" stop-color="#747474"/><stop offset="0.5983" stop-color="#6d6d6d"/><stop offset="0.6011" stop-color="#656565"/><stop offset="0.6039" stop-color="#5d5d5d"/><stop offset="0.6067" stop-color="#565656"/><stop offset="0.6096" stop-color="#515151"/><stop offset="0.6124" stop-color="#4e4e4e"/><stop offset="0.6152" stop-color="#4d4d4d"/><stop offset="0.6180" stop-color="#4f4f4f"/><stop offset="0.6208" stop-color="#545454"/><stop offset="0.6236" stop-color="#5a5a5a"/><stop offset="0.6264" stop-color="#626262"/><stop offset="0.6292" stop-color="#6a6a6a"/><stop offset="0.6320" stop-color="#727272"/><stop offset="0.6348" stop-color="#797979"/><stop offset="0.6376" stop-color="#7f7f7f"/><stop offset="0.6404" stop-color="#848484"/><stop offset="0.6433" stop-color="#878787"/><stop offset="0.6461" stop-color="#868686"/><stop offset="0.6489" stop-color="#828282"/><stop offset="0.6517" stop-color="#7d7d7d"/><stop offset="0.6545" stop-color="#767676"/><stop offset="0.6573" stop-color="#6e6e6e"/><stop offset="0.6601" stop-color="#666666"/><stop offset="0.6629" stop-color="#5d5d5d"/><stop offset="0.6657" stop-color="#555555"/><stop offset="0.6685" stop-color="#4f4f4f"/><stop offset="0.6713" stop-color="#4b4b4b"/><stop offset="0.6742" stop-color="#4a4a4a"/><stop offset="0.6770" stop-color="#4b4b4b"/><stop offset="0.6798" stop-color="#505050"/><stop offset="0.6826" stop-color="#575757"/><stop offset="0.6854" stop-color="#5f5f5f"/><stop offset="0.6882" stop-color="#696969"/><stop offset="0.6910" stop-color="#727272"/><stop offset="0.6938" stop-color="#7a7a7a"/><stop offset="0.6966" stop-color="#818181"/><stop offset="0.6994" stop-color="#878787"/><stop offset="0.7022" stop-color="#868686"/><stop offset="0.7051" stop-color="#7f7f7f"/><stop offset="0.7079" stop-color="#777777"/><stop offset="0.7107" stop-color="#6d6d6d"/><stop offset="0.7135" stop-color="#636363"/><stop offset="0.7163" stop-color="#595959"/><stop offset="0.7191" stop-color="#505050"/><stop offset="0.7219" stop-color="#505050"/><stop offset="0.7247" stop-color="#535353"/><stop offset="0.7275" stop-color="#5a5a5a"/><stop offset="0.7303" stop-color="#656565"/><stop offset="0.7331" stop-color="#737373"/><stop offset="0.7360" stop-color="#838383"/><stop offset="0.7388" stop-color="#939393"/><stop offset="0.7416" stop-color="#a3a3a3"/><stop offset="0.7444" stop-color="#a7a7a7"/><stop offset="0.7472" stop-color="#a9a9a9"/><stop offset="0.7500" stop-color="#aaaaaa"/><stop offset="0.7528" stop-color="#a9a9a9"/><stop offset="0.7556" stop-color="#a7a7a7"/><stop offset="0.7584" stop-color="#a3a3a3"/><stop offset="0.7612" stop-color="#9e9e9e"/><stop offset="0.7640" stop-color="#989898"/><stop offset="0.7669" stop-color="#929292"/><stop offset="0.7697" stop-color="#8c8c8c"/><stop offset="0.7725" stop-color="#868686"/><stop offset="0.7753" stop-color="#808080"/><stop offset="0.7781" stop-color="#808080"/><stop offset="0.7809" stop-color="#808080"/><stop offset="0.7837" stop-color="#818181"/><stop offset="0.7865" stop-color="#818181"/><stop offset="0.7893" stop-color="#818181"/><stop offset="0.7921" stop-color="#818181"/><stop offset="0.7949" stop-color="#818181"/><stop offset="0.7978" stop-color="#828282"/><stop offset="0.8006" stop-color="#828282"/><stop offset="0.8034" stop-color="#828282"/><stop offset="0.8062" stop-color="#868686"/><stop offset="0.8090" stop-color="#898989"/><stop offset="0.8118" stop-color="#8d8d8d"/><stop offset="0.8146" stop-color="#919191"/><stop offset="0.8174" stop-color="#959595"/><stop offset="0.8202" stop-color="#989898"/><stop offset="0.8230" stop-color="#9c9c9c"/><stop offset="0.8258" stop-color="#a0a0a0"/><stop offset="0.8287" stop-color="#a4a4a4"/><stop offset="0.8315" stop-color="#a9a9a9"/><stop offset="0.8343" stop-color="#aeaeae"/><stop offset="0.8371" stop-color="#b2b2b2"/><stop offset="0.8399" stop-color="#b6b6b6"/><stop offset="0.8427" stop-color="#bbbbbb"/><stop offset="0.8455" stop-color="#c0c0c0"/><stop offset="0.8483" stop-color="#c4c4c4"/><stop offset="0.8511" stop-color="#c6c6c6"/><stop offset="0.8539" stop-color="#c8c8c8"/><stop offset="0.8567" stop-color="#c9c9c9"/><stop offset="0.8596" stop-color="#cbcbcb"/><stop offset="0.8624" stop-color="#cdcdcd"/><stop offset="0.8652" stop-color="#cecece"/><stop offset="0.8680" stop-color="#d0d0d0"/><stop offset="0.8708" stop-color="#d2d2d2"/><stop offset="0.8736" stop-color="#d3d3d3"/><stop offset="0.8764" stop-color="#d4d4d4"/><stop offset="0.8792" stop-color="#d4d4d4"/><stop offset="0.8820" stop-color="#d5d5d5"/><stop offset="0.8848" stop-color="#d6d6d6"/><stop offset="0.8876" stop-color="#d7d7d7"/><stop offset="0.8904" stop-color="#d8d8d8"/><stop offset="0.8933" stop-color="#d8d8d8"/><stop offset="0.8961" stop-color="#d9d9d9"/><stop offset="0.8989" stop-color="#dadada"/><stop offset="0.9017" stop-color="#d9d9d9"/><stop offset="0.9045" stop-color="#d9d9d9"/><stop offset="0.9073" stop-color="#d8d8d8"/><stop offset="0.9101" stop-color="#d8d8d8"/><stop offset="0.9129" stop-color="#d7d7d7"/><stop offset="0.9157" stop-color="#d6d6d6"/><stop offset="0.9185" stop-color="#d6d6d6"/><stop offset="0.9213" stop-color="#d5d5d5"/><stop offset="0.9242" stop-color="#d5d5d5"/><stop offset="0.9270" stop-color="#d4d4d4"/><stop offset="0.9298" stop-color="#d5d5d5"/><stop offset="0.9326" stop-color="#d6d6d6"/><stop offset="0.9354" stop-color="#d6d6d6"/><stop offset="0.9382" stop-color="#d7d7d7"/><stop offset="0.9410" stop-color="#d8d8d8"/><stop offset="0.9438" stop-color="#d9d9d9"/><stop offset="0.9466" stop-color="#dadada"/><stop offset="0.9494" stop-color="#dadada"/><stop offset="0.9522" stop-color="#dbdbdb"/><stop offset="0.9551" stop-color="#dcdcdc"/><stop offset="0.9579" stop-color="#dedede"/><stop offset="0.9607" stop-color="#e0e0e0"/><stop offset="0.9635" stop-color="#e1e1e1"/><stop offset="0.9663" stop-color="#e3e3e3"/><stop offset="0.9691" stop-color="#e5e5e5"/><stop offset="0.9719" stop-color="#e6e6e6"/><stop offset="0.9747" stop-color="#e8e8e8"/><stop offset="0.9775" stop-color="#eaeaea"/><stop offset="0.9803" stop-color="#ececec"/><stop offset="0.9831" stop-color="#eeeeee"/><stop offset="0.9860" stop-color="#f0f0f0"/><stop offset="0.9888" stop-color="#f2f2f2"/><stop offset="0.9916" stop-color="#f4f4f4"/><stop offset="0.9944" stop-color="#f6f6f6"/><stop offset="0.9972" stop-color="#f7f7f7"/><stop offset="1.0000" stop-color="#f8f8f8"/></linearGradient>
<linearGradient id="gl2" x1="0" y1="0" x2="0" y2="1"><stop offset="0.0000" stop-color="#f8f8f8"/><stop offset="0.0027" stop-color="#e3e3e3"/><stop offset="0.0055" stop-color="#d6d6d6"/><stop offset="0.0082" stop-color="#d6d6d6"/><stop offset="0.0110" stop-color="#d6d6d6"/><stop offset="0.0137" stop-color="#d5d5d5"/><stop offset="0.0164" stop-color="#d5d5d5"/><stop offset="0.0192" stop-color="#d5d5d5"/><stop offset="0.0219" stop-color="#d5d5d5"/><stop offset="0.0247" stop-color="#d4d4d4"/><stop offset="0.0274" stop-color="#d4d4d4"/><stop offset="0.0301" stop-color="#d4d4d4"/><stop offset="0.0329" stop-color="#d4d4d4"/><stop offset="0.0356" stop-color="#d4d4d4"/><stop offset="0.0384" stop-color="#d3d3d3"/><stop offset="0.0411" stop-color="#d3d3d3"/><stop offset="0.0438" stop-color="#d3d3d3"/><stop offset="0.0466" stop-color="#d3d3d3"/><stop offset="0.0493" stop-color="#d3d3d3"/><stop offset="0.0521" stop-color="#d2d2d2"/><stop offset="0.0548" stop-color="#d2d2d2"/><stop offset="0.0575" stop-color="#d2d2d2"/><stop offset="0.0603" stop-color="#d2d2d2"/><stop offset="0.0630" stop-color="#d1d1d1"/><stop offset="0.0658" stop-color="#d1d1d1"/><stop offset="0.0685" stop-color="#d1d1d1"/><stop offset="0.0712" stop-color="#d0d0d0"/><stop offset="0.0740" stop-color="#d0d0d0"/><stop offset="0.0767" stop-color="#d0d0d0"/><stop offset="0.0795" stop-color="#d0d0d0"/><stop offset="0.0822" stop-color="#cfcfcf"/><stop offset="0.0849" stop-color="#cfcfcf"/><stop offset="0.0877" stop-color="#cfcfcf"/><stop offset="0.0904" stop-color="#cecece"/><stop offset="0.0932" stop-color="#cecece"/><stop offset="0.0959" stop-color="#cecece"/><stop offset="0.0986" stop-color="#cecece"/><stop offset="0.1014" stop-color="#cdcdcd"/><stop offset="0.1041" stop-color="#cdcdcd"/><stop offset="0.1068" stop-color="#cdcdcd"/><stop offset="0.1096" stop-color="#cccccc"/><stop offset="0.1123" stop-color="#cccccc"/><stop offset="0.1151" stop-color="#cbcbcb"/><stop offset="0.1178" stop-color="#cbcbcb"/><stop offset="0.1205" stop-color="#cacaca"/><stop offset="0.1233" stop-color="#cacaca"/><stop offset="0.1260" stop-color="#c9c9c9"/><stop offset="0.1288" stop-color="#c8c8c8"/><stop offset="0.1315" stop-color="#c8c8c8"/><stop offset="0.1342" stop-color="#c7c7c7"/><stop offset="0.1370" stop-color="#c7c7c7"/><stop offset="0.1397" stop-color="#c6c6c6"/><stop offset="0.1425" stop-color="#c5c5c5"/><stop offset="0.1452" stop-color="#c5c5c5"/><stop offset="0.1479" stop-color="#c4c4c4"/><stop offset="0.1507" stop-color="#c4c4c4"/><stop offset="0.1534" stop-color="#c3c3c3"/><stop offset="0.1562" stop-color="#c2c2c2"/><stop offset="0.1589" stop-color="#c2c2c2"/><stop offset="0.1616" stop-color="#c1c1c1"/><stop offset="0.1644" stop-color="#c1c1c1"/><stop offset="0.1671" stop-color="#c0c0c0"/><stop offset="0.1699" stop-color="#bfbfbf"/><stop offset="0.1726" stop-color="#bfbfbf"/><stop offset="0.1753" stop-color="#bebebe"/><stop offset="0.1781" stop-color="#bdbdbd"/><stop offset="0.1808" stop-color="#bcbcbc"/><stop offset="0.1836" stop-color="#bcbcbc"/><stop offset="0.1863" stop-color="#bbbbbb"/><stop offset="0.1890" stop-color="#bababa"/><stop offset="0.1918" stop-color="#bababa"/><stop offset="0.1945" stop-color="#b9b9b9"/><stop offset="0.1973" stop-color="#b8b8b8"/><stop offset="0.2000" stop-color="#b8b8b8"/><stop offset="0.2027" stop-color="#b7b7b7"/><stop offset="0.2055" stop-color="#b6b6b6"/><stop offset="0.2082" stop-color="#b6b6b6"/><stop offset="0.2110" stop-color="#b5b5b5"/><stop offset="0.2137" stop-color="#b4b4b4"/><stop offset="0.2164" stop-color="#b3b3b3"/><stop offset="0.2192" stop-color="#b3b3b3"/><stop offset="0.2219" stop-color="#b2b2b2"/><stop offset="0.2247" stop-color="#b1b1b1"/><stop offset="0.2274" stop-color="#b1b1b1"/><stop offset="0.2301" stop-color="#b0b0b0"/><stop offset="0.2329" stop-color="#afafaf"/><stop offset="0.2356" stop-color="#afafaf"/><stop offset="0.2384" stop-color="#aeaeae"/><stop offset="0.2411" stop-color="#adadad"/><stop offset="0.2438" stop-color="#adadad"/><stop offset="0.2466" stop-color="#acacac"/><stop offset="0.2493" stop-color="#acacac"/><stop offset="0.2521" stop-color="#ababab"/><stop offset="0.2548" stop-color="#aaaaaa"/><stop offset="0.2575" stop-color="#aaaaaa"/><stop offset="0.2603" stop-color="#a9a9a9"/><stop offset="0.2630" stop-color="#a8a8a8"/><stop offset="0.2658" stop-color="#a8a8a8"/><stop offset="0.2685" stop-color="#a7a7a7"/><stop offset="0.2712" stop-color="#a6a6a6"/><stop offset="0.2740" stop-color="#a6a6a6"/><stop offset="0.2767" stop-color="#a5a5a5"/><stop offset="0.2795" stop-color="#a4a4a4"/><stop offset="0.2822" stop-color="#a3a3a3"/><stop offset="0.2849" stop-color="#a2a2a2"/><stop offset="0.2877" stop-color="#a1a1a1"/><stop offset="0.2904" stop-color="#a0a0a0"/><stop offset="0.2932" stop-color="#9f9f9f"/><stop offset="0.2959" stop-color="#9e9e9e"/><stop offset="0.2986" stop-color="#9d9d9d"/><stop offset="0.3014" stop-color="#9c9c9c"/><stop offset="0.3041" stop-color="#9c9c9c"/><stop offset="0.3068" stop-color="#9b9b9b"/><stop offset="0.3096" stop-color="#9a9a9a"/><stop offset="0.3123" stop-color="#999999"/><stop offset="0.3151" stop-color="#989898"/><stop offset="0.3178" stop-color="#979797"/><stop offset="0.3205" stop-color="#969696"/><stop offset="0.3233" stop-color="#959595"/><stop offset="0.3260" stop-color="#949494"/><stop offset="0.3288" stop-color="#939393"/><stop offset="0.3315" stop-color="#929292"/><stop offset="0.3342" stop-color="#919191"/><stop offset="0.3370" stop-color="#909090"/><stop offset="0.3397" stop-color="#8e8e8e"/><stop offset="0.3425" stop-color="#8d8d8d"/><stop offset="0.3452" stop-color="#8c8c8c"/><stop offset="0.3479" stop-color="#8b8b8b"/><stop offset="0.3507" stop-color="#898989"/><stop offset="0.3534" stop-color="#888888"/><stop offset="0.3562" stop-color="#868686"/><stop offset="0.3589" stop-color="#848484"/><stop offset="0.3616" stop-color="#838383"/><stop offset="0.3644" stop-color="#818181"/><stop offset="0.3671" stop-color="#808080"/><stop offset="0.3699" stop-color="#7f7f7f"/><stop offset="0.3726" stop-color="#7f7f7f"/><stop offset="0.3753" stop-color="#7f7f7f"/><stop offset="0.3781" stop-color="#808080"/><stop offset="0.3808" stop-color="#808080"/><stop offset="0.3836" stop-color="#818181"/><stop offset="0.3863" stop-color="#818181"/><stop offset="0.3890" stop-color="#808080"/><stop offset="0.3918" stop-color="#808080"/><stop offset="0.3945" stop-color="#7f7f7f"/><stop offset="0.3973" stop-color="#7e7e7e"/><stop offset="0.4000" stop-color="#7c7c7c"/><stop offset="0.4027" stop-color="#7a7a7a"/><stop offset="0.4055" stop-color="#787878"/><stop offset="0.4082" stop-color="#767676"/><stop offset="0.4110" stop-color="#757575"/><stop offset="0.4137" stop-color="#757575"/><stop offset="0.4164" stop-color="#777777"/><stop offset="0.4192" stop-color="#787878"/><stop offset="0.4219" stop-color="#797979"/><stop offset="0.4247" stop-color="#7a7a7a"/><stop offset="0.4274" stop-color="#7a7a7a"/><stop offset="0.4301" stop-color="#7a7a7a"/><stop offset="0.4329" stop-color="#7a7a7a"/><stop offset="0.4356" stop-color="#797979"/><stop offset="0.4384" stop-color="#777777"/><stop offset="0.4411" stop-color="#757575"/><stop offset="0.4438" stop-color="#737373"/><stop offset="0.4466" stop-color="#717171"/><stop offset="0.4493" stop-color="#6f6f6f"/><stop offset="0.4521" stop-color="#6f6f6f"/><stop offset="0.4548" stop-color="#707070"/><stop offset="0.4575" stop-color="#727272"/><stop offset="0.4603" stop-color="#747474"/><stop offset="0.4630" stop-color="#757575"/><stop offset="0.4658" stop-color="#767676"/><stop offset="0.4685" stop-color="#777777"/><stop offset="0.4712" stop-color="#767676"/><stop offset="0.4740" stop-color="#767676"/><stop offset="0.4767" stop-color="#757575"/><stop offset="0.4795" stop-color="#737373"/><stop offset="0.4822" stop-color="#707070"/><stop offset="0.4849" stop-color="#6d6d6d"/><stop offset="0.4877" stop-color="#6b6b6b"/><stop offset="0.4904" stop-color="#6a6a6a"/><stop offset="0.4932" stop-color="#6b6b6b"/><stop offset="0.4959" stop-color="#6d6d6d"/><stop offset="0.4986" stop-color="#6f6f6f"/><stop offset="0.5014" stop-color="#727272"/><stop offset="0.5041" stop-color="#737373"/><stop offset="0.5068" stop-color="#747474"/><stop offset="0.5096" stop-color="#757575"/><stop offset="0.5123" stop-color="#747474"/><stop offset="0.5151" stop-color="#737373"/><stop offset="0.5178" stop-color="#727272"/><stop offset="0.5205" stop-color="#6f6f6f"/><stop offset="0.5233" stop-color="#6c6c6c"/><stop offset="0.5260" stop-color="#696969"/><stop offset="0.5288" stop-color="#676767"/><stop offset="0.5315" stop-color="#666666"/><stop offset="0.5342" stop-color="#676767"/><stop offset="0.5370" stop-color="#6a6a6a"/><stop offset="0.5397" stop-color="#6d6d6d"/><stop offset="0.5425" stop-color="#6f6f6f"/><stop offset="0.5452" stop-color="#717171"/><stop offset="0.5479" stop-color="#727272"/><stop offset="0.5507" stop-color="#737373"/><stop offset="0.5534" stop-color="#727272"/><stop offset="0.5562" stop-color="#717171"/><stop offset="0.5589" stop-color="#6f6f6f"/><stop offset="0.5616" stop-color="#6c6c6c"/><stop offset="0.5644" stop-color="#686868"/><stop offset="0.5671" stop-color="#656565"/><stop offset="0.5699" stop-color="#636363"/><stop offset="0.5726" stop-color="#626262"/><stop offset="0.5753" stop-color="#646464"/><stop offset="0.5781" stop-color="#676767"/><stop offset="0.5808" stop-color="#6b6b6b"/><stop offset="0.5836" stop-color="#6e6e6e"/><stop offset="0.5863" stop-color="#707070"/><stop offset="0.5890" stop-color="#717171"/><stop offset="0.5918" stop-color="#717171"/><stop offset="0.5945" stop-color="#717171"/><stop offset="0.5973" stop-color="#717171"/><stop offset="0.6000" stop-color="#707070"/><stop offset="0.6027" stop-color="#6f6f6f"/><stop offset="0.6055" stop-color="#6d6d6d"/><stop offset="0.6082" stop-color="#6b6b6b"/><stop offset="0.6110" stop-color="#686868"/><stop offset="0.6137" stop-color="#656565"/><stop offset="0.6164" stop-color="#636363"/><stop offset="0.6192" stop-color="#616161"/><stop offset="0.6219" stop-color="#606060"/><stop offset="0.6247" stop-color="#616161"/><stop offset="0.6274" stop-color="#646464"/><stop offset="0.6301" stop-color="#676767"/><stop offset="0.6329" stop-color="#6b6b6b"/><stop offset="0.6356" stop-color="#6e6e6e"/><stop offset="0.6384" stop-color="#707070"/><stop offset="0.6411" stop-color="#727272"/><stop offset="0.6438" stop-color="#727272"/><stop offset="0.6466" stop-color="#707070"/><stop offset="0.6493" stop-color="#6d6d6d"/><stop offset="0.6521" stop-color="#6a6a6a"/><stop offset="0.6548" stop-color="#676767"/><stop offset="0.6575" stop-color="#646464"/><stop offset="0.6603" stop-color="#626262"/><stop offset="0.6630" stop-color="#626262"/><stop offset="0.6658" stop-color="#646464"/><stop offset="0.6685" stop-color="#676767"/><stop offset="0.6712" stop-color="#6b6b6b"/><stop offset="0.6740" stop-color="#6f6f6f"/><stop offset="0.6767" stop-color="#727272"/><stop offset="0.6795" stop-color="#757575"/><stop offset="0.6822" stop-color="#777777"/><stop offset="0.6849" stop-color="#777777"/><stop offset="0.6877" stop-color="#757575"/><stop offset="0.6904" stop-color="#727272"/><stop offset="0.6932" stop-color="#6d6d6d"/><stop offset="0.6959" stop-color="#676767"/><stop offset="0.6986" stop-color="#606060"/><stop offset="0.7014" stop-color="#595959"/><stop offset="0.7041" stop-color="#545454"/><stop offset="0.7068" stop-color="#525252"/><stop offset="0.7096" stop-color="#535353"/><stop offset="0.7123" stop-color="#585858"/><stop offset="0.7151" stop-color="#606060"/><stop offset="0.7178" stop-color="#686868"/><stop offset="0.7205" stop-color="#707070"/><stop offset="0.7233" stop-color="#787878"/><stop offset="0.7260" stop-color="#7f7f7f"/><stop offset="0.7288" stop-color="#848484"/><stop offset="0.7315" stop-color="#878787"/><stop offset="0.7342" stop-color="#8b8b8b"/><stop offset="0.7370" stop-color="#8d8d8d"/><stop offset="0.7397" stop-color="#909090"/><stop offset="0.7425" stop-color="#929292"/><stop offset="0.7452" stop-color="#929292"/><stop offset="0.7479" stop-color="#939393"/><stop offset="0.7507" stop-color="#939393"/><stop offset="0.7534" stop-color="#949494"/><stop offset="0.7562" stop-color="#949494"/><stop offset="0.7589" stop-color="#959595"/><stop offset="0.7616" stop-color="#959595"/><stop offset="0.7644" stop-color="#969696"/><stop offset="0.7671" stop-color="#969696"/><stop offset="0.7699" stop-color="#979797"/><stop offset="0.7726" stop-color="#979797"/><stop offset="0.7753" stop-color="#989898"/><stop offset="0.7781" stop-color="#999999"/><stop offset="0.7808" stop-color="#9b9b9b"/><stop offset="0.7836" stop-color="#9c9c9c"/><stop offset="0.7863" stop-color="#9e9e9e"/><stop offset="0.7890" stop-color="#a0a0a0"/><stop offset="0.7918" stop-color="#a1a1a1"/><stop offset="0.7945" stop-color="#a2a2a2"/><stop offset="0.7973" stop-color="#a4a4a4"/><stop offset="0.8000" stop-color="#a6a6a6"/><stop offset="0.8027" stop-color="#a7a7a7"/><stop offset="0.8055" stop-color="#a8a8a8"/><stop offset="0.8082" stop-color="#aaaaaa"/><stop offset="0.8110" stop-color="#acacac"/><stop offset="0.8137" stop-color="#afafaf"/><stop offset="0.8164" stop-color="#b2b2b2"/><stop offset="0.8192" stop-color="#b4b4b4"/><stop offset="0.8219" stop-color="#b6b6b6"/><stop offset="0.8247" stop-color="#b9b9b9"/><stop offset="0.8274" stop-color="#bcbcbc"/><stop offset="0.8301" stop-color="#bebebe"/><stop offset="0.8329" stop-color="#c0c0c0"/><stop offset="0.8356" stop-color="#c1c1c1"/><stop offset="0.8384" stop-color="#c3c3c3"/><stop offset="0.8411" stop-color="#c5c5c5"/><stop offset="0.8438" stop-color="#c6c6c6"/><stop offset="0.8466" stop-color="#c8c8c8"/><stop offset="0.8493" stop-color="#cacaca"/><stop offset="0.8521" stop-color="#cbcbcb"/><stop offset="0.8548" stop-color="#cdcdcd"/><stop offset="0.8575" stop-color="#cfcfcf"/><stop offset="0.8603" stop-color="#d0d0d0"/><stop offset="0.8630" stop-color="#d2d2d2"/><stop offset="0.8658" stop-color="#d3d3d3"/><stop offset="0.8685" stop-color="#d3d3d3"/><stop offset="0.8712" stop-color="#d4d4d4"/><stop offset="0.8740" stop-color="#d4d4d4"/><stop offset="0.8767" stop-color="#d5d5d5"/><stop offset="0.8795" stop-color="#d6d6d6"/><stop offset="0.8822" stop-color="#d6d6d6"/><stop offset="0.8849" stop-color="#d7d7d7"/><stop offset="0.8877" stop-color="#d8d8d8"/><stop offset="0.8904" stop-color="#d8d8d8"/><stop offset="0.8932" stop-color="#d9d9d9"/><stop offset="0.8959" stop-color="#dadada"/><stop offset="0.8986" stop-color="#dadada"/><stop offset="0.9014" stop-color="#dbdbdb"/><stop offset="0.9041" stop-color="#dbdbdb"/><stop offset="0.9068" stop-color="#dcdcdc"/><stop offset="0.9096" stop-color="#dcdcdc"/><stop offset="0.9123" stop-color="#dddddd"/><stop offset="0.9151" stop-color="#dddddd"/><stop offset="0.9178" stop-color="#dedede"/><stop offset="0.9205" stop-color="#dedede"/><stop offset="0.9233" stop-color="#dedede"/><stop offset="0.9260" stop-color="#dfdfdf"/><stop offset="0.9288" stop-color="#dfdfdf"/><stop offset="0.9315" stop-color="#dfdfdf"/><stop offset="0.9342" stop-color="#e0e0e0"/><stop offset="0.9370" stop-color="#e0e0e0"/><stop offset="0.9397" stop-color="#e0e0e0"/><stop offset="0.9425" stop-color="#e1e1e1"/><stop offset="0.9452" stop-color="#e1e1e1"/><stop offset="0.9479" stop-color="#e2e2e2"/><stop offset="0.9507" stop-color="#e2e2e2"/><stop offset="0.9534" stop-color="#e3e3e3"/><stop offset="0.9562" stop-color="#e4e4e4"/><stop offset="0.9589" stop-color="#e6e6e6"/><stop offset="0.9616" stop-color="#e7e7e7"/><stop offset="0.9644" stop-color="#e8e8e8"/><stop offset="0.9671" stop-color="#e9e9e9"/><stop offset="0.9699" stop-color="#eaeaea"/><stop offset="0.9726" stop-color="#ececec"/><stop offset="0.9753" stop-color="#ededed"/><stop offset="0.9781" stop-color="#eeeeee"/><stop offset="0.9808" stop-color="#efefef"/><stop offset="0.9836" stop-color="#f1f1f1"/><stop offset="0.9863" stop-color="#f2f2f2"/><stop offset="0.9890" stop-color="#f3f3f3"/><stop offset="0.9918" stop-color="#f5f5f5"/><stop offset="0.9945" stop-color="#f6f6f6"/><stop offset="0.9973" stop-color="#f7f7f7"/><stop offset="1.0000" stop-color="#f8f8f8"/></linearGradient>
<rect x="236" y="330" width="90" height="192" fill="#f8f8f8" filter="url(#blur3)"/>
<g filter="url(#gelblur)">
<path d="M248.2,334.0 L272.2,334.0 L270.6,512.0 L245,512.0 Z" fill="url(#gl1)"/>
<path d="M288.2,334.5 L312.6,334.5 L311.5,470 L313.4,517.0 L283.2,517.0 L284.6,470 L287,440 Z" fill="url(#gl2)"/>
<linearGradient id="hs1" x1="0" y1="0" x2="1" y2="0"><stop offset="0" stop-color="#fff" stop-opacity="0.45"/><stop offset="0.08" stop-color="#fff" stop-opacity="0.15"/><stop offset="0.18" stop-color="#000" stop-opacity="0.06"/><stop offset="0.3" stop-color="#fff" stop-opacity="0.08"/><stop offset="0.42" stop-color="#000" stop-opacity="0.07"/><stop offset="0.55" stop-color="#fff" stop-opacity="0.06"/><stop offset="0.66" stop-color="#000" stop-opacity="0.08"/><stop offset="0.78" stop-color="#fff" stop-opacity="0.07"/><stop offset="0.9" stop-color="#fff" stop-opacity="0.15"/><stop offset="1" stop-color="#fff" stop-opacity="0.45"/></linearGradient>
<rect x="246" y="334.0" width="26.5" height="178.0" fill="url(#hs1)"/>
<rect x="284" y="334.5" width="29.5" height="182.5" fill="url(#hs1)"/>
</g>
<text transform="translate(340.6,310.3) scale(1.0,1.065)" font-size="17" font-weight="bold" style="stroke-width:0">G</text>
<line x1="397.3" y1="333.8" x2="397.3" y2="487.1" stroke="#000" stroke-width="1.7"/>
<line x1="392.5" y1="338.5" x2="397.3" y2="338.5" stroke="#000" stroke-width="1.5"/>
<text x="388.6" y="342.5" font-size="11.5" text-anchor="end" font-weight="normal" >50</text>
<line x1="392.5" y1="368.06" x2="397.3" y2="368.06" stroke="#000" stroke-width="1.5"/>
<text x="388.6" y="372.06" font-size="11.5" text-anchor="end" font-weight="normal" >40</text>
<line x1="392.5" y1="397.62" x2="397.3" y2="397.62" stroke="#000" stroke-width="1.5"/>
<text x="388.6" y="401.62" font-size="11.5" text-anchor="end" font-weight="normal" >30</text>
<line x1="392.5" y1="427.18" x2="397.3" y2="427.18" stroke="#000" stroke-width="1.5"/>
<text x="388.6" y="431.18" font-size="11.5" text-anchor="end" font-weight="normal" >20</text>
<line x1="392.5" y1="456.74" x2="397.3" y2="456.74" stroke="#000" stroke-width="1.5"/>
<text x="388.6" y="460.74" font-size="11.5" text-anchor="end" font-weight="normal" >10</text>
<line x1="392.5" y1="486.3" x2="397.3" y2="486.3" stroke="#000" stroke-width="1.5"/>
<text x="388.6" y="490.3" font-size="11.5" text-anchor="end" font-weight="normal" >0</text>
<line x1="392.7" y1="486.3" x2="471.6" y2="486.3" stroke="#000" stroke-width="1.7"/>
<line x1="413.9" y1="486.3" x2="413.9" y2="490.90000000000003" stroke="#000" stroke-width="1.5"/>
<text x="413.9" y="505.8" font-size="12" text-anchor="middle" font-weight="normal" >Control</text>
<line x1="457.3" y1="486.3" x2="457.3" y2="490.90000000000003" stroke="#000" stroke-width="1.5"/>
<text x="457.3" y="505.8" font-size="12" text-anchor="middle" font-weight="normal" >NAC</text>
<text transform="translate(365.5,409) rotate(-90) scale(0.935,1)" font-size="14" text-anchor="middle">HMW VWF multimers (%)</text>
<circle cx="409.7" cy="360.7" r="3.0" fill="#a50e37"/>
<circle cx="418.2" cy="366.3" r="3.0" fill="#a50e37"/>
<circle cx="406.1" cy="371.7" r="3.0" fill="#a50e37"/>
<circle cx="421.5" cy="372.1" r="3.0" fill="#a50e37"/>
<circle cx="413.9" cy="378.2" r="3.0" fill="#a50e37"/>
<line x1="402.4" y1="369.7" x2="425.3" y2="369.7" stroke="#000" stroke-width="1.6"/>
<circle cx="456.9" cy="392.5" r="2.3" fill="none" stroke="#293c6a" stroke-width="1.4"/>
<circle cx="465.1" cy="404" r="2.3" fill="none" stroke="#293c6a" stroke-width="1.4"/>
<circle cx="448.3" cy="407.9" r="2.3" fill="none" stroke="#293c6a" stroke-width="1.4"/>
<circle cx="453.6" cy="410.8" r="2.3" fill="none" stroke="#293c6a" stroke-width="1.4"/>
<circle cx="459.3" cy="409.3" r="2.3" fill="none" stroke="#293c6a" stroke-width="1.4"/>
<line x1="444.4" y1="405.2" x2="468.5" y2="405.2" stroke="#000" stroke-width="1.6"/>
<line x1="413.5" y1="344.5" x2="429.45" y2="344.5" stroke="#000" stroke-width="1.5"/>
<line x1="441.95000000000005" y1="344.5" x2="457.9" y2="344.5" stroke="#000" stroke-width="1.5"/>
<polygon points="433.05,341.35 433.73,342.97 435.48,343.11 434.14,344.26 434.55,345.96 433.05,345.05 431.55,345.96 431.96,344.26 430.62,343.11 432.37,342.97" fill="#000"/>
<polygon points="438.35,341.35 439.03,342.97 440.78,343.11 439.44,344.26 439.85,345.96 438.35,345.05 436.85,345.96 437.26,344.26 435.92,343.11 437.67,342.97" fill="#000"/>
<line x1="413.5" y1="343.75" x2="413.5" y2="347.5" stroke="#000" stroke-width="1.5"/>
<line x1="457.9" y1="343.75" x2="457.9" y2="347.5" stroke="#000" stroke-width="1.5"/>
<rect x="1" y="1" width="518" height="542" fill="none" stroke="#000" stroke-width="2"/>
</svg></body></html>
